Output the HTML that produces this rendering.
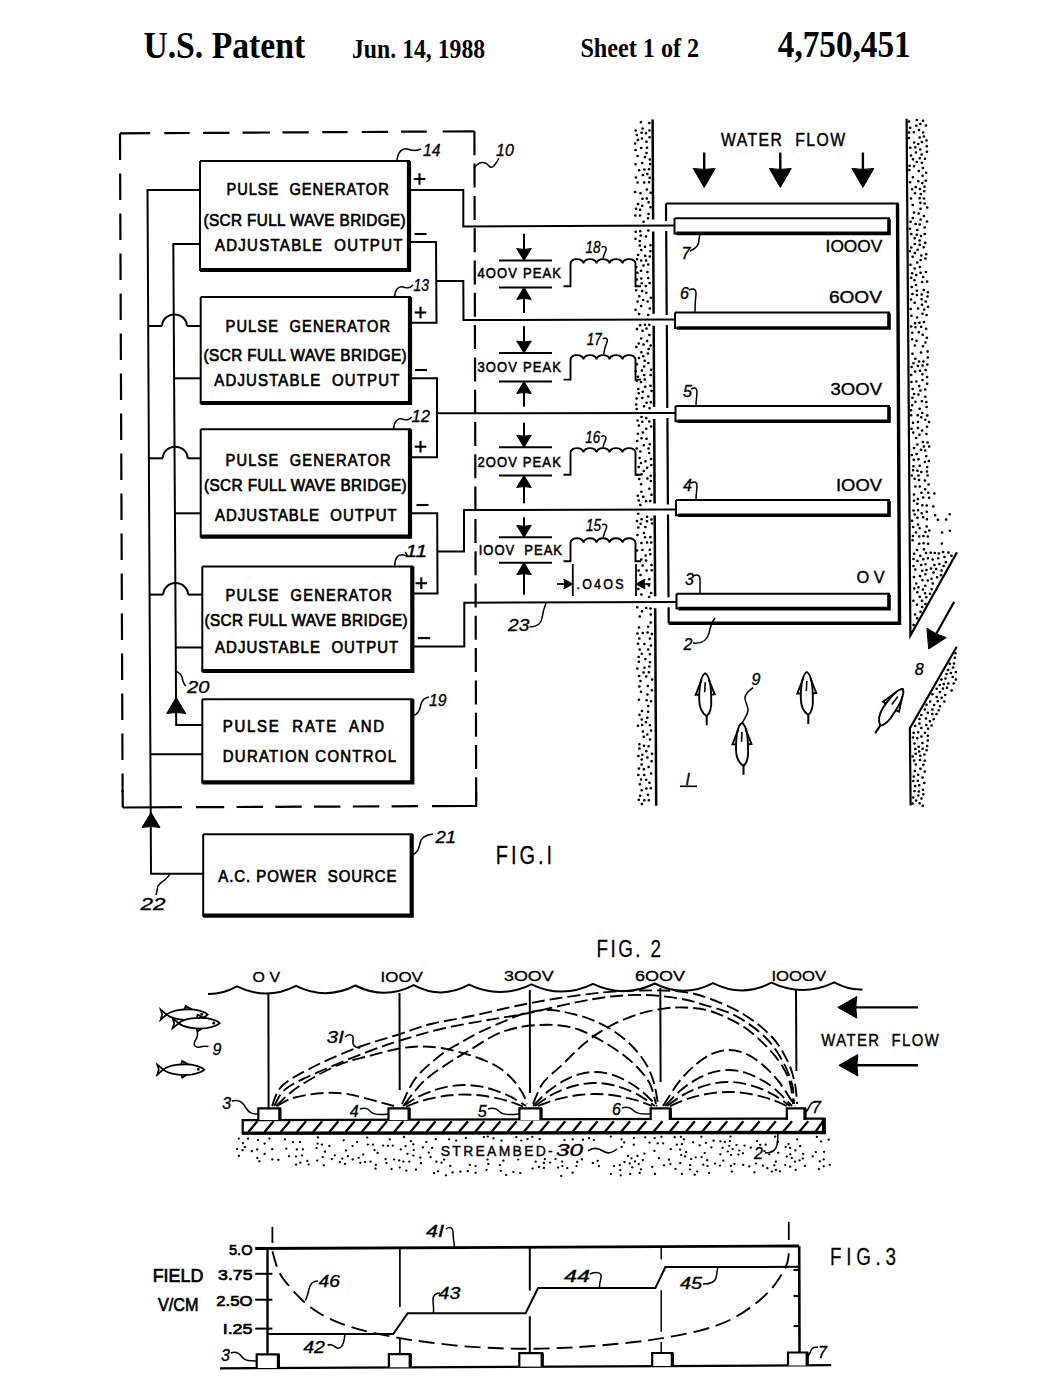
<!DOCTYPE html>
<html><head><meta charset="utf-8"><title>US Patent 4,750,451 Sheet 1</title>
<style>
html,body{margin:0;padding:0;background:#fff;}
body{width:1050px;height:1396px;overflow:hidden;font-family:"Liberation Sans",sans-serif;}
svg{display:block;}
text{white-space:pre;}
</style></head><body>
<svg width="1050" height="1396" viewBox="0 0 1050 1396" stroke-linecap="butt">
<rect width="1050" height="1396" fill="#fff"/>
<text x="143.4" y="58.0" font-family="Liberation Serif" font-size="38" font-weight="bold" font-style="normal" text-anchor="start" textLength="161.7" lengthAdjust="spacingAndGlyphs">U.S. Patent</text>
<text x="352.0" y="58.0" font-family="Liberation Serif" font-size="27" font-weight="bold" font-style="normal" text-anchor="start" textLength="133.2" lengthAdjust="spacingAndGlyphs">Jun. 14, 1988</text>
<text x="580.4" y="57.0" font-family="Liberation Serif" font-size="27" font-weight="bold" font-style="normal" text-anchor="start" textLength="118.8" lengthAdjust="spacingAndGlyphs">Sheet 1 of 2</text>
<text x="777.8" y="57.0" font-family="Liberation Serif" font-size="37" font-weight="bold" font-style="normal" text-anchor="start" textLength="132.8" lengthAdjust="spacingAndGlyphs">4,750,451</text>
<path d="M120.0,133.4 L150.2,133.2 M164.3,133.1 L189.7,133.0 M203.1,132.9 L229.5,132.8 M242.6,132.7 L270.0,132.5 M282.4,132.4 L308.8,132.3 M322.2,132.2 L347.6,132.1 M361.7,132.0 L388.1,131.8 M401.1,131.7 L426.8,131.6 M442.7,131.5 L474.4,131.3 " fill="none" stroke="#000" stroke-width="2.2"/>
<path d="M122.8,807.5 L182.0,807.2 M196.0,807.2 L224.2,807.1 M236.6,807.0 L263.0,806.9 M275.3,806.9 L301.7,806.7 M314.0,806.7 L340.5,806.6 M352.8,806.5 L379.3,806.4 M391.6,806.4 L418.0,806.2 M432.0,806.2 L476.2,806.0 " fill="none" stroke="#000" stroke-width="2.2"/>
<path d="M120.0,133.4 L122.6,792.0" fill="none" stroke="#000" stroke-width="2.2" stroke-dasharray="26.5 13.5"/>
<path d="M122.6,790.0 L122.8,807.5" fill="none" stroke="#000" stroke-width="2.2"/>
<path d="M474.4,131.3 L476.2,807.0" fill="none" stroke="#000" stroke-width="2.2" stroke-dasharray="24 8.3"/>
<path d="M476.1,792.0 L476.2,807.0" fill="none" stroke="#000" stroke-width="2.2"/>
<path d="M200.0,161.0 L409.0,161.0 L409.0,270.0 L200.0,270.0 L200.0,161.0" fill="none" stroke="#000" stroke-width="2" stroke-linejoin="miter"/>
<path d="M409.0,161.0 L409.0,270.0 L200.0,270.0" fill="none" stroke="#000" stroke-width="4.2"/>
<path d="M200.7,297.0 L410.0,297.0 L410.0,403.0 L200.7,403.0 L200.7,297.0" fill="none" stroke="#000" stroke-width="2" stroke-linejoin="miter"/>
<path d="M410.0,297.0 L410.0,403.0 L200.7,403.0" fill="none" stroke="#000" stroke-width="4.2"/>
<path d="M200.7,429.3 L410.0,429.3 L410.0,536.7 L200.7,536.7 L200.7,429.3" fill="none" stroke="#000" stroke-width="2" stroke-linejoin="miter"/>
<path d="M410.0,429.3 L410.0,536.7 L200.7,536.7" fill="none" stroke="#000" stroke-width="4.2"/>
<path d="M202.3,566.4 L412.3,566.4 L412.3,671.0 L202.3,671.0 L202.3,566.4" fill="none" stroke="#000" stroke-width="2" stroke-linejoin="miter"/>
<path d="M412.3,566.4 L412.3,671.0 L202.3,671.0" fill="none" stroke="#000" stroke-width="4.2"/>
<path d="M202.3,699.3 L412.3,699.3 L412.3,782.4 L202.3,782.4 L202.3,699.3" fill="none" stroke="#000" stroke-width="2" stroke-linejoin="miter"/>
<path d="M412.3,699.3 L412.3,782.4 L202.3,782.4" fill="none" stroke="#000" stroke-width="4.2"/>
<path d="M203.2,834.3 L411.7,834.3 L411.7,915.7 L203.2,915.7 L203.2,834.3" fill="none" stroke="#000" stroke-width="2" stroke-linejoin="miter"/>
<path d="M411.7,834.3 L411.7,915.7 L203.2,915.7" fill="none" stroke="#000" stroke-width="4.2"/>
<text transform="translate(226.4 194.7) scale(0.86 1)" x="0" y="0" font-family="Liberation Sans" font-size="17" font-weight="normal" font-style="normal" text-anchor="start" textLength="188.8" lengthAdjust="spacing" stroke="#000" stroke-width="0.7">PULSE  GENERATOR</text>
<text transform="translate(203.4 225.5) scale(0.9 1)" x="0" y="0" font-family="Liberation Sans" font-size="17" font-weight="normal" font-style="normal" text-anchor="start" textLength="224.7" lengthAdjust="spacing" stroke="#000" stroke-width="0.7">(SCR FULL WAVE BRIDGE)</text>
<text transform="translate(214.9 250.7) scale(0.88 1)" x="0" y="0" font-family="Liberation Sans" font-size="17" font-weight="normal" font-style="normal" text-anchor="start" textLength="213.1" lengthAdjust="spacing" stroke="#000" stroke-width="0.7">ADJUSTABLE  OUTPUT</text>
<text transform="translate(225.5 331.7) scale(0.86 1)" x="0" y="0" font-family="Liberation Sans" font-size="17" font-weight="normal" font-style="normal" text-anchor="start" textLength="191.3" lengthAdjust="spacing" stroke="#000" stroke-width="0.7">PULSE  GENERATOR</text>
<text transform="translate(203.5 360.7) scale(0.9 1)" x="0" y="0" font-family="Liberation Sans" font-size="17" font-weight="normal" font-style="normal" text-anchor="start" textLength="225.8" lengthAdjust="spacing" stroke="#000" stroke-width="0.7">(SCR FULL WAVE BRIDGE)</text>
<text transform="translate(214.3 385.5) scale(0.88 1)" x="0" y="0" font-family="Liberation Sans" font-size="17" font-weight="normal" font-style="normal" text-anchor="start" textLength="210.2" lengthAdjust="spacing" stroke="#000" stroke-width="0.7">ADJUSTABLE  OUTPUT</text>
<text transform="translate(225.5 465.5) scale(0.86 1)" x="0" y="0" font-family="Liberation Sans" font-size="17" font-weight="normal" font-style="normal" text-anchor="start" textLength="191.9" lengthAdjust="spacing" stroke="#000" stroke-width="0.7">PULSE  GENERATOR</text>
<text transform="translate(204.0 490.5) scale(0.9 1)" x="0" y="0" font-family="Liberation Sans" font-size="17" font-weight="normal" font-style="normal" text-anchor="start" textLength="225.2" lengthAdjust="spacing" stroke="#000" stroke-width="0.7">(SCR FULL WAVE BRIDGE)</text>
<text transform="translate(215.0 520.5) scale(0.88 1)" x="0" y="0" font-family="Liberation Sans" font-size="17" font-weight="normal" font-style="normal" text-anchor="start" textLength="206.5" lengthAdjust="spacing" stroke="#000" stroke-width="0.7">ADJUSTABLE  OUTPUT</text>
<text transform="translate(225.6 600.6) scale(0.86 1)" x="0" y="0" font-family="Liberation Sans" font-size="17" font-weight="normal" font-style="normal" text-anchor="start" textLength="193.4" lengthAdjust="spacing" stroke="#000" stroke-width="0.7">PULSE  GENERATOR</text>
<text transform="translate(204.4 626.3) scale(0.9 1)" x="0" y="0" font-family="Liberation Sans" font-size="17" font-weight="normal" font-style="normal" text-anchor="start" textLength="225.9" lengthAdjust="spacing" stroke="#000" stroke-width="0.7">(SCR FULL WAVE BRIDGE)</text>
<text transform="translate(215.0 652.8) scale(0.88 1)" x="0" y="0" font-family="Liberation Sans" font-size="17" font-weight="normal" font-style="normal" text-anchor="start" textLength="208.2" lengthAdjust="spacing" stroke="#000" stroke-width="0.7">ADJUSTABLE  OUTPUT</text>
<text transform="translate(222.8 732.0) scale(0.88 1)" x="0" y="0" font-family="Liberation Sans" font-size="17" font-weight="normal" font-style="normal" text-anchor="start" textLength="183.3" lengthAdjust="spacing" stroke="#000" stroke-width="0.7">PULSE  RATE  AND</text>
<text transform="translate(222.8 762.0) scale(0.88 1)" x="0" y="0" font-family="Liberation Sans" font-size="17" font-weight="normal" font-style="normal" text-anchor="start" textLength="196.9" lengthAdjust="spacing" stroke="#000" stroke-width="0.7">DURATION CONTROL</text>
<text transform="translate(218.3 882.3) scale(0.88 1)" x="0" y="0" font-family="Liberation Sans" font-size="17" font-weight="normal" font-style="normal" text-anchor="start" textLength="202.6" lengthAdjust="spacing" stroke="#000" stroke-width="0.7">A.C. POWER  SOURCE</text>
<path d="M200.0,190.0 L147.5,190.0 L151.0,873.7 L203.2,873.7" fill="none" stroke="#000" stroke-width="2"/>
<path d="M200.0,244.0 L173.3,244.0 L176.2,725.0 L202.3,725.0" fill="none" stroke="#000" stroke-width="2"/>
<path d="M148.2,326.0 L162.1,326.0" fill="none" stroke="#000" stroke-width="2"/>
<path d="M162.1,326.0 A12.4,11.6 0 0 1 186.9,326.0" fill="none" stroke="#000" stroke-width="2"/>
<path d="M186.9,326.0 L200.7,326.0" fill="none" stroke="#000" stroke-width="2"/>
<path d="M148.9,458.3 L162.8,458.3" fill="none" stroke="#000" stroke-width="2"/>
<path d="M162.8,458.3 A12.4,11.6 0 0 1 187.6,458.3" fill="none" stroke="#000" stroke-width="2"/>
<path d="M187.6,458.3 L200.7,458.3" fill="none" stroke="#000" stroke-width="2"/>
<path d="M149.6,594.6 L163.2,594.6" fill="none" stroke="#000" stroke-width="2"/>
<path d="M163.2,594.6 A12.4,11.6 0 0 1 188.0,594.6" fill="none" stroke="#000" stroke-width="2"/>
<path d="M188.0,594.6 L202.3,594.6" fill="none" stroke="#000" stroke-width="2"/>
<path d="M174.5,378.3 L200.7,378.3" fill="none" stroke="#000" stroke-width="2"/>
<path d="M175.2,513.3 L200.7,513.3" fill="none" stroke="#000" stroke-width="2"/>
<path d="M176.0,647.5 L202.3,647.5" fill="none" stroke="#000" stroke-width="2"/>
<path d="M150.2,754.2 L202.3,754.2" fill="none" stroke="#000" stroke-width="2"/>
<path d="M176.2,697.5 L185.7,713.5 Q176.2,711.5 166.7,713.5 Z" fill="#000" stroke="#000" stroke-width="1"/>
<path d="M151.0,812.5 L160.0,827.5 Q151.0,825.5 142.0,827.5 Z" fill="#000" stroke="#000" stroke-width="1"/>
<path d="M409.0,190.0 L463.3,190.0 L463.3,226.4 L675.0,225.6" fill="none" stroke="#000" stroke-width="2"/>
<path d="M409.0,242.0 L436.0,242.0 L436.5,322.7 L410.0,322.7" fill="none" stroke="#000" stroke-width="2"/>
<path d="M436.2,281.0 L463.3,281.0 L463.5,320.0 L675.0,319.5" fill="none" stroke="#000" stroke-width="2"/>
<path d="M410.0,378.3 L437.0,378.3 L437.0,457.3 L410.0,457.3" fill="none" stroke="#000" stroke-width="2"/>
<path d="M437.0,413.3 L676.0,413.0" fill="none" stroke="#000" stroke-width="2"/>
<path d="M410.0,513.3 L437.2,513.3 L437.5,593.5 L412.0,593.5" fill="none" stroke="#000" stroke-width="2"/>
<path d="M437.3,551.5 L464.0,551.5 L464.0,510.0 L676.0,509.5" fill="none" stroke="#000" stroke-width="2"/>
<path d="M412.0,646.5 L464.3,646.5 L464.3,602.7 L676.5,602.0" fill="none" stroke="#000" stroke-width="2"/>
<path d="M413.7,179.0 L425.3,179.0" fill="none" stroke="#000" stroke-width="2.1"/>
<path d="M419.5,173.2 L419.5,184.8" fill="none" stroke="#000" stroke-width="2.1"/>
<path d="M414.5,234.0 L426.5,234.0" fill="none" stroke="#000" stroke-width="2.1"/>
<path d="M414.7,312.5 L426.3,312.5" fill="none" stroke="#000" stroke-width="2.1"/>
<path d="M420.5,306.7 L420.5,318.3" fill="none" stroke="#000" stroke-width="2.1"/>
<path d="M415.0,370.0 L427.0,370.0" fill="none" stroke="#000" stroke-width="2.1"/>
<path d="M414.7,446.7 L426.3,446.7" fill="none" stroke="#000" stroke-width="2.1"/>
<path d="M420.5,440.9 L420.5,452.5" fill="none" stroke="#000" stroke-width="2.1"/>
<path d="M416.5,505.0 L428.5,505.0" fill="none" stroke="#000" stroke-width="2.1"/>
<path d="M415.5,583.2 L427.1,583.2" fill="none" stroke="#000" stroke-width="2.1"/>
<path d="M421.3,577.4 L421.3,589.0" fill="none" stroke="#000" stroke-width="2.1"/>
<path d="M418.0,638.1 L430.0,638.1" fill="none" stroke="#000" stroke-width="2.1"/>
<text x="423.0" y="155.8" font-family="Liberation Sans" font-size="17" font-weight="normal" font-style="italic" text-anchor="start" textLength="17.5" lengthAdjust="spacingAndGlyphs" stroke="#000" stroke-width="0.35">14</text>
<path d="M397,160 C398,152 402,148 407,149 C412,150 415,152 421,149" fill="none" stroke="#000" stroke-width="1.5"/>
<text x="413.5" y="290.5" font-family="Liberation Sans" font-size="17" font-weight="normal" font-style="italic" text-anchor="start" textLength="15.5" lengthAdjust="spacingAndGlyphs" stroke="#000" stroke-width="0.35">13</text>
<path d="M394.5,297.5 C395,290 398,286 403,287 C407,288 409,289 413,285" fill="none" stroke="#000" stroke-width="1.5"/>
<text x="411.5" y="421.7" font-family="Liberation Sans" font-size="17" font-weight="normal" font-style="italic" text-anchor="start" textLength="18.5" lengthAdjust="spacingAndGlyphs" stroke="#000" stroke-width="0.35">12</text>
<path d="M393.5,429.5 C394,422 397,418 402,419 C406,420 408,421 412,417" fill="none" stroke="#000" stroke-width="1.5"/>
<text x="405.5" y="557.0" font-family="Liberation Sans" font-size="17" font-weight="normal" font-style="italic" text-anchor="start" textLength="21.5" lengthAdjust="spacingAndGlyphs" stroke="#000" stroke-width="0.35">11</text>
<path d="M394.7,565.5 C395,558 398,554 403,555 C407,556 409,557 405,552" fill="none" stroke="#000" stroke-width="1.5"/>
<text x="496.0" y="155.7" font-family="Liberation Sans" font-size="17" font-weight="normal" font-style="italic" text-anchor="start" textLength="17.8" lengthAdjust="spacingAndGlyphs" stroke="#000" stroke-width="0.35">10</text>
<path d="M474,168 C480,160 486,162 489,166 C492,170 496,164 499,158" fill="none" stroke="#000" stroke-width="1.5"/>
<text x="429.0" y="706.3" font-family="Liberation Sans" font-size="17" font-weight="normal" font-style="italic" text-anchor="start" textLength="17.5" lengthAdjust="spacingAndGlyphs" stroke="#000" stroke-width="0.35">19</text>
<path d="M412.3,716 C419,714 420,709 421,704 C422,700 424,698 429,697" fill="none" stroke="#000" stroke-width="1.5"/>
<text x="187.0" y="693.3" font-family="Liberation Sans" font-size="17" font-weight="normal" font-style="italic" text-anchor="start" textLength="22.4" lengthAdjust="spacingAndGlyphs" stroke="#000" stroke-width="0.35">20</text>
<path d="M176.3,671 C178,673 181,673 182,677 C183,681 183,684 186,686" fill="none" stroke="#000" stroke-width="1.5"/>
<text x="435.5" y="842.6" font-family="Liberation Sans" font-size="17" font-weight="normal" font-style="italic" text-anchor="start" textLength="20.5" lengthAdjust="spacingAndGlyphs" stroke="#000" stroke-width="0.35">21</text>
<path d="M411.8,855 C418,853 419,848 420,843 C421,838 424,835 433,834" fill="none" stroke="#000" stroke-width="1.5"/>
<text x="140.6" y="909.8" font-family="Liberation Sans" font-size="17" font-weight="normal" font-style="italic" text-anchor="start" textLength="25.0" lengthAdjust="spacingAndGlyphs" stroke="#000" stroke-width="0.35">22</text>
<path d="M170,873.7 C167,880 160,882 158,886 C157,889 157,892 156,895" fill="none" stroke="#000" stroke-width="1.5"/>
<text x="508.0" y="630.7" font-family="Liberation Sans" font-size="17" font-weight="normal" font-style="italic" text-anchor="start" textLength="21.3" lengthAdjust="spacingAndGlyphs" stroke="#000" stroke-width="0.35">23</text>
<path d="M529.5,627 C536,627 541,625 542,618 C543,612 544,608 546,603" fill="none" stroke="#000" stroke-width="1.5"/>
<path d="M524.0,233.8 L524.0,250.5" fill="none" stroke="#000" stroke-width="2"/>
<path d="M524.0,260.5 L516.7,248.5 Q524.0,250.5 531.3,248.5 Z" fill="#000" stroke="#000" stroke-width="1"/>
<path d="M499.0,260.5 L552.0,260.5" fill="none" stroke="#000" stroke-width="2"/>
<text transform="translate(477.5 278.3) scale(0.88 1)" x="0" y="0" font-family="Liberation Sans" font-size="14.8" font-weight="normal" font-style="normal" text-anchor="start" textLength="94.9" lengthAdjust="spacing" stroke="#000" stroke-width="0.55">4OOV PEAK</text>
<path d="M499.0,287.4 L552.0,287.4" fill="none" stroke="#000" stroke-width="2"/>
<path d="M524.0,287.4 L531.3,299.4 Q524.0,297.4 516.7,299.4 Z" fill="#000" stroke="#000" stroke-width="1"/>
<path d="M524.0,297.4 L524.0,313.0" fill="none" stroke="#000" stroke-width="2"/>
<path d="M524.0,326.3 L524.0,343.0" fill="none" stroke="#000" stroke-width="2"/>
<path d="M524.0,353.0 L516.7,341.0 Q524.0,343.0 531.3,341.0 Z" fill="#000" stroke="#000" stroke-width="1"/>
<path d="M499.0,353.0 L552.0,353.0" fill="none" stroke="#000" stroke-width="2"/>
<text transform="translate(477.5 372.0) scale(0.88 1)" x="0" y="0" font-family="Liberation Sans" font-size="14.8" font-weight="normal" font-style="normal" text-anchor="start" textLength="94.9" lengthAdjust="spacing" stroke="#000" stroke-width="0.55">3OOV PEAK</text>
<path d="M499.0,381.5 L552.0,381.5" fill="none" stroke="#000" stroke-width="2"/>
<path d="M524.0,381.5 L531.3,393.5 Q524.0,391.5 516.7,393.5 Z" fill="#000" stroke="#000" stroke-width="1"/>
<path d="M524.0,391.5 L524.0,406.7" fill="none" stroke="#000" stroke-width="2"/>
<path d="M524.0,422.7 L524.0,437.2" fill="none" stroke="#000" stroke-width="2"/>
<path d="M524.0,447.2 L516.7,435.2 Q524.0,437.2 531.3,435.2 Z" fill="#000" stroke="#000" stroke-width="1"/>
<path d="M499.0,447.2 L552.0,447.2" fill="none" stroke="#000" stroke-width="2"/>
<text transform="translate(477.5 466.7) scale(0.88 1)" x="0" y="0" font-family="Liberation Sans" font-size="14.8" font-weight="normal" font-style="normal" text-anchor="start" textLength="94.7" lengthAdjust="spacing" stroke="#000" stroke-width="0.55">2OOV PEAK</text>
<path d="M499.0,475.5 L552.0,475.5" fill="none" stroke="#000" stroke-width="2"/>
<path d="M524.0,475.5 L531.3,487.5 Q524.0,485.5 516.7,487.5 Z" fill="#000" stroke="#000" stroke-width="1"/>
<path d="M524.0,485.5 L524.0,503.2" fill="none" stroke="#000" stroke-width="2"/>
<path d="M524.0,517.3 L524.0,527.3" fill="none" stroke="#000" stroke-width="2"/>
<path d="M524.0,537.3 L516.7,525.3 Q524.0,527.3 531.3,525.3 Z" fill="#000" stroke="#000" stroke-width="1"/>
<path d="M499.0,537.3 L552.0,537.3" fill="none" stroke="#000" stroke-width="2"/>
<text transform="translate(478.7 554.9) scale(0.88 1)" x="0" y="0" font-family="Liberation Sans" font-size="14.8" font-weight="normal" font-style="normal" text-anchor="start" textLength="94.7" lengthAdjust="spacing" stroke="#000" stroke-width="0.55">IOOV  PEAK</text>
<path d="M499.0,562.7 L552.0,562.7" fill="none" stroke="#000" stroke-width="2"/>
<path d="M524.0,562.7 L531.3,574.7 Q524.0,572.7 516.7,574.7 Z" fill="#000" stroke="#000" stroke-width="1"/>
<path d="M524.0,572.7 L524.0,594.7" fill="none" stroke="#000" stroke-width="2"/>
<path d="M563.5,286.2 L570.5,286.2 L570.5,263.5 A6.50,4.40 0 0 1 583.50,263.5 A6.50,4.40 0 0 1 596.50,263.5 A6.50,4.40 0 0 1 609.50,263.5 A6.50,4.40 0 0 1 622.50,263.5 A6.50,4.40 0 0 1 635.50,263.5 L635.5,286.2 L641,286.2" fill="none" stroke="#000" stroke-width="1.9"/>
<text x="585.5" y="253.3" font-family="Liberation Sans" font-size="16" font-weight="normal" font-style="italic" text-anchor="start" textLength="15.0" lengthAdjust="spacingAndGlyphs" stroke="#000" stroke-width="0.35">18</text>
<path d="M601.5,247.3 C604.5,245.3 607.5,247.3 605.5,251.3 C603.5,255.3 603.5,258.3 602.5,258.0" fill="none" stroke="#000" stroke-width="1.5"/>
<path d="M563.5,379.6 L570.5,379.6 L570.5,359.5 A6.50,4.40 0 0 1 583.50,359.5 A6.50,4.40 0 0 1 596.50,359.5 A6.50,4.40 0 0 1 609.50,359.5 A6.50,4.40 0 0 1 622.50,359.5 A6.50,4.40 0 0 1 635.50,359.5 L635.5,379.6 L641,379.6" fill="none" stroke="#000" stroke-width="1.9"/>
<text x="586.7" y="344.8" font-family="Liberation Sans" font-size="16" font-weight="normal" font-style="italic" text-anchor="start" textLength="15.0" lengthAdjust="spacingAndGlyphs" stroke="#000" stroke-width="0.35">17</text>
<path d="M602.7,338.8 C605.7,336.8 608.7,338.8 606.7,342.8 C604.7,346.8 604.7,349.8 603.7,354.0" fill="none" stroke="#000" stroke-width="1.5"/>
<path d="M563.5,474.7 L570.5,474.7 L570.5,452.5 A6.50,4.40 0 0 1 583.50,452.5 A6.50,4.40 0 0 1 596.50,452.5 A6.50,4.40 0 0 1 609.50,452.5 A6.50,4.40 0 0 1 622.50,452.5 A6.50,4.40 0 0 1 635.50,452.5 L635.5,474.7 L641,474.7" fill="none" stroke="#000" stroke-width="1.9"/>
<text x="585.3" y="442.7" font-family="Liberation Sans" font-size="16" font-weight="normal" font-style="italic" text-anchor="start" textLength="15.0" lengthAdjust="spacingAndGlyphs" stroke="#000" stroke-width="0.35">16</text>
<path d="M601.3,436.7 C604.3,434.7 607.3,436.7 605.3,440.7 C603.3,444.7 603.3,447.7 602.3,447.0" fill="none" stroke="#000" stroke-width="1.5"/>
<path d="M563.5,561.3 L570.5,561.3 L570.5,542.7 A6.50,4.40 0 0 1 583.50,542.7 A6.50,4.40 0 0 1 596.50,542.7 A6.50,4.40 0 0 1 609.50,542.7 A6.50,4.40 0 0 1 622.50,542.7 A6.50,4.40 0 0 1 635.50,542.7 L635.5,561.3 L641,561.3" fill="none" stroke="#000" stroke-width="1.9"/>
<text x="586.0" y="531.0" font-family="Liberation Sans" font-size="16" font-weight="normal" font-style="italic" text-anchor="start" textLength="15.0" lengthAdjust="spacingAndGlyphs" stroke="#000" stroke-width="0.35">15</text>
<path d="M602,525 C605,523 608,525 606,529 C604,533 604,536 603,537.2" fill="none" stroke="#000" stroke-width="1.5"/>
<path d="M572.8,564.0 L572.8,596.0" fill="none" stroke="#000" stroke-width="1.8"/>
<path d="M636.0,564.0 L636.0,596.0" fill="none" stroke="#000" stroke-width="1.8"/>
<path d="M557.0,584.0 L566.0,584.0" fill="none" stroke="#000" stroke-width="1.8"/>
<path d="M572.8,584.0 L563.8,589.0 Q565.8,584.0 563.8,579.0 Z" fill="#000" stroke="#000" stroke-width="1"/>
<path d="M650.5,584.0 L643.0,584.0" fill="none" stroke="#000" stroke-width="1.8"/>
<path d="M636.0,584.0 L645.0,579.0 Q643.0,584.0 645.0,589.0 Z" fill="#000" stroke="#000" stroke-width="1"/>
<text transform="translate(576.5 588.5) scale(0.88 1)" x="0" y="0" font-family="Liberation Sans" font-size="14.2" font-weight="normal" font-style="normal" text-anchor="start" textLength="53.4" lengthAdjust="spacing" stroke="#000" stroke-width="0.5">.O4OS</text>
<path d="M652.6,119.4 L653.1,219.4 M653.2,231.4 L653.6,313.7 M653.7,325.7 L654.1,407.0 M654.2,419.0 L654.6,503.6 M654.7,515.6 L655.1,596.2 M655.2,608.2 L656.2,805.7 " fill="none" stroke="#000" stroke-width="2.5"/>
<path d="M906.6,118.8 L910.4,635.5 L957.0,552.3" fill="none" stroke="#000" stroke-width="2.2"/>
<path d="M956.7,646.7 L909.9,728.3 L910.6,805.5" fill="none" stroke="#000" stroke-width="2.2"/>
<path d="M644.3 169.6h.2M641.8 370.5h.2M639.3 686.4h.2M643.8 769.2h.2M642.7 391.7h.2M644.1 375.1h.2M642.1 163.0h.2M636.9 521.1h.2M640.0 325.3h.2M641.6 719.5h.2M639.2 638.6h.2M649.3 334.9h.2M645.3 527.1h.2M642.8 432.5h.2M648.5 767.1h.2M640.4 574.9h.2M644.2 800.3h.2M648.1 314.9h.2M642.1 725.1h.2M648.0 711.8h.2M636.1 404.5h.2M637.9 725.7h.2M643.0 300.0h.2M651.0 593.0h.2M641.3 543.1h.2M644.9 157.0h.2M649.8 654.3h.2M649.2 666.5h.2M638.6 393.3h.2M637.5 156.0h.2M643.5 221.8h.2M638.0 204.1h.2M648.7 800.3h.2M640.3 451.4h.2M637.5 301.4h.2M648.2 230.6h.2M641.9 138.5h.2M641.6 790.3h.2M649.0 596.9h.2M635.7 371.2h.2M641.7 653.7h.2M637.3 272.8h.2M647.9 794.7h.2M648.8 672.2h.2M648.0 626.8h.2M637.8 139.9h.2M651.0 426.4h.2M651.0 369.8h.2M643.7 736.7h.2M648.5 448.4h.2M644.4 667.8h.2M637.3 668.6h.2M651.4 391.1h.2M638.8 768.6h.2M645.9 236.5h.2M651.6 570.2h.2M637.7 495.8h.2M651.4 565.0h.2M641.6 759.5h.2M648.2 264.6h.2M637.8 433.8h.2M639.3 748.6h.2M641.0 484.3h.2M641.5 132.8h.2M639.7 245.4h.2M646.0 501.2h.2M637.2 475.1h.2M635.5 309.7h.2M647.0 467.8h.2M641.3 594.5h.2M650.7 297.8h.2M648.5 213.9h.2M647.2 734.5h.2M649.4 782.8h.2M651.8 690.2h.2M641.3 352.3h.2M645.9 133.3h.2M642.2 421.7h.2M643.7 470.9h.2M635.9 208.7h.2M639.3 744.3h.2M642.2 754.8h.2M641.6 283.3h.2M636.9 328.9h.2M635.5 130.5h.2M650.6 192.8h.2M640.9 691.7h.2M638.6 467.1h.2M645.5 555.6h.2M638.9 358.1h.2M635.6 231.8h.2M649.2 579.3h.2M636.2 285.9h.2M651.4 494.7h.2M636.8 364.3h.2M636.7 279.5h.2M646.5 570.4h.2M645.8 722.2h.2M638.6 343.4h.2M645.9 560.6h.2M649.6 549.7h.2M646.1 676.4h.2M647.7 686.1h.2M642.8 731.6h.2M642.3 550.0h.2M643.8 586.3h.2M640.8 122.3h.2M647.5 632.6h.2M646.2 292.8h.2M646.0 260.6h.2M646.3 788.4h.2M640.9 382.1h.2M646.9 542.6h.2M646.4 328.5h.2M642.5 128.5h.2M641.4 438.3h.2M649.7 256.5h.2M651.5 761.3h.2M648.5 202.2h.2M650.4 608.4h.2M638.2 389.1h.2M652.0 523.6h.2M641.2 250.0h.2M638.2 775.0h.2M643.9 745.7h.2M646.1 428.8h.2M650.4 207.2h.2M640.9 270.7h.2M639.9 215.6h.2M637.5 182.4h.2M646.5 402.8h.2M639.1 479.1h.2M636.0 290.2h.2M638.8 425.4h.2M651.0 701.3h.2M649.7 444.2h.2M648.2 706.0h.2M650.7 614.4h.2M644.2 643.9h.2M641.5 519.3h.2M636.8 134.9h.2M641.0 582.0h.2M639.2 296.2h.2M635.0 143.4h.2M645.0 255.7h.2M641.1 260.6h.2M648.0 278.1h.2M649.8 725.3h.2M650.5 345.5h.2M646.4 141.8h.2M644.6 379.4h.2M639.0 676.1h.2M646.9 147.8h.2M651.1 542.6h.2M650.2 554.3h.2M651.0 773.4h.2M639.5 458.0h.2M650.4 245.3h.2M648.1 649.4h.2M643.4 344.5h.2M647.2 174.1h.2M635.4 164.3h.2M635.8 177.6h.2M646.5 700.2h.2M638.7 799.8h.2M641.2 278.5h.2M640.4 681.1h.2M648.5 746.3h.2M651.4 519.5h.2M650.5 375.0h.2M644.9 246.8h.2M636.9 259.3h.2M644.1 182.4h.2M639.0 314.1h.2M638.0 255.1h.2M640.1 231.3h.2M650.7 788.2h.2M650.4 385.7h.2M647.3 272.1h.2M638.9 699.8h.2M643.2 496.8h.2M640.4 193.3h.2M641.2 147.9h.2M647.3 757.4h.2M649.7 308.4h.2M647.9 218.3h.2M641.1 338.6h.2M644.0 366.4h.2M647.5 301.4h.2M637.9 643.8h.2M639.7 241.1h.2M646.4 153.1h.2M643.7 445.3h.2M650.6 622.5h.2M641.2 559.5h.2M646.4 438.7h.2M635.0 192.1h.2M637.4 633.5h.2M647.3 478.4h.2M649.4 130.4h.2M639.6 616.4h.2M642.5 330.8h.2M651.2 465.1h.2M639.6 649.5h.2M649.0 182.3h.2M636.2 267.1h.2M645.4 461.3h.2M645.3 659.0h.2M649.5 137.2h.2M647.0 516.7h.2M649.5 283.0h.2M646.1 417.9h.2M638.8 661.8h.2M638.9 627.5h.2M642.6 633.1h.2M648.8 585.5h.2M636.9 550.4h.2M650.7 475.7h.2M641.9 611.3h.2M650.7 481.0h.2M640.3 505.0h.2M642.1 205.7h.2M648.3 363.0h.2M636.6 448.5h.2M649.9 662.3h.2M647.3 694.6h.2M635.2 215.4h.2M641.9 711.1h.2M648.2 396.6h.2M641.1 306.1h.2M650.3 536.9h.2M646.8 189.4h.2M636.6 408.9h.2M645.8 286.0h.2M638.1 513.8h.2M643.9 406.3h.2M637.3 535.0h.2M638.3 589.1h.2M640.5 523.7h.2M643.1 356.3h.2M649.1 453.1h.2M650.8 645.6h.2M650.0 164.0h.2M644.1 775.1h.2M649.9 739.6h.2M644.9 324.7h.2M640.6 235.5h.2M648.5 349.1h.2M652.0 753.7h.2M649.7 159.4h.2M647.8 353.5h.2M638.2 527.5h.2M637.1 607.2h.2M651.0 458.9h.2M640.9 463.0h.2M641.4 417.1h.2M636.5 398.5h.2M642.5 565.5h.2M649.2 421.4h.2M649.2 123.0h.2M646.8 521.3h.2M641.0 779.5h.2M647.2 717.8h.2M638.6 500.4h.2M641.8 803.9h.2M641.4 474.3h.2M645.1 386.8h.2M649.5 408.3h.2M643.9 533.1h.2M643.5 672.5h.2M647.0 341.1h.2M635.5 150.1h.2M635.4 238.8h.2M642.4 198.7h.2M640.0 209.7h.2M643.4 265.6h.2M641.3 491.7h.2M638.5 570.4h.2M644.6 360.7h.2M646.1 608.1h.2M636.7 380.8h.2M642.0 291.0h.2M637.1 441.0h.2M651.8 634.1h.2M642.8 175.0h.2M639.8 784.3h.2M637.5 420.5h.2M644.9 537.3h.2M639.0 170.3h.2M646.7 198.5h.2M649.3 488.8h.2M640.1 795.7h.2M642.1 398.1h.2M639.4 714.8h.2M646.1 779.8h.2M641.5 764.5h.2M646.2 751.2h.2M636.2 347.1h.2M650.3 251.3h.2M649.8 638.6h.2M652.0 679.5h.2M650.2 500.9h.2M649.0 169.3h.2M637.8 376.7h.2M649.6 177.8h.2M650.7 402.2h.2M649.2 324.8h.2M638.6 656.9h.2M638.3 756.1h.2M651.0 730.6h.2" stroke="#000" stroke-width="2.50" stroke-linecap="round" fill="none"/>
<path d="M912.9 422.8h.2M926.6 505.4h.2M920.3 202.7h.2M924.1 191.3h.2M933.4 572.6h.2M913.9 500.7h.2M914.4 280.3h.2M922.0 606.9h.2M915.9 284.9h.2M919.3 322.7h.2M919.7 224.5h.2M913.4 510.4h.2M925.0 593.3h.2M919.6 244.8h.2M927.7 536.6h.2M911.1 277.7h.2M923.8 322.0h.2M915.2 569.6h.2M912.3 294.1h.2M932.6 559.5h.2M927.2 415.6h.2M920.1 555.8h.2M948.4 552.5h.2M913.3 466.2h.2M916.7 234.7h.2M924.8 480.6h.2M922.9 120.8h.2M920.1 149.6h.2M917.3 444.4h.2M923.7 290.1h.2M927.0 383.7h.2M912.4 353.7h.2M915.4 327.3h.2M920.5 219.4h.2M919.6 408.7h.2M916.3 125.7h.2M924.5 203.6h.2M921.8 141.9h.2M914.6 302.7h.2M910.9 198.6h.2M911.0 410.3h.2M918.9 130.0h.2M929.0 497.7h.2M922.8 441.9h.2M918.4 587.3h.2M926.0 172.8h.2M927.0 466.9h.2M926.6 526.4h.2M919.5 198.3h.2M911.7 455.1h.2M916.4 340.8h.2M910.6 309.0h.2M921.6 513.2h.2M913.1 432.5h.2M921.5 299.2h.2M922.8 168.0h.2M918.7 332.2h.2M923.1 517.3h.2M925.2 396.8h.2M909.9 228.8h.2M914.7 345.4h.2M912.8 177.3h.2M927.5 475.5h.2M923.8 549.3h.2M917.4 561.0h.2M920.3 124.1h.2M913.7 459.8h.2M914.9 193.3h.2M926.1 456.2h.2M925.1 389.4h.2M911.1 247.4h.2M917.0 317.6h.2M925.1 450.6h.2M930.9 568.6h.2M911.5 366.9h.2M914.6 238.3h.2M917.2 503.8h.2M936.0 568.9h.2M916.7 162.0h.2M919.6 596.8h.2M945.7 562.2h.2M925.2 585.7h.2M912.7 218.0h.2M916.9 550.1h.2M927.4 296.4h.2M918.2 181.3h.2M912.5 389.0h.2M937.0 577.3h.2M918.4 459.2h.2M918.0 308.4h.2M942.0 532.4h.2M914.9 614.5h.2M917.8 499.1h.2M924.8 461.9h.2M917.2 230.1h.2M919.6 137.4h.2M919.1 543.8h.2M938.1 558.3h.2M908.9 121.5h.2M914.5 478.8h.2M919.6 486.6h.2M922.6 334.8h.2M913.9 166.3h.2M919.5 528.3h.2M934.3 493.5h.2M921.0 449.8h.2M917.4 517.8h.2M922.0 282.1h.2M913.3 600.7h.2M925.0 489.3h.2M922.5 365.6h.2M921.5 154.4h.2M910.9 155.5h.2M914.0 394.0h.2M914.6 514.5h.2M923.6 247.2h.2M919.0 361.6h.2M923.8 215.9h.2M928.0 543.8h.2M925.6 301.4h.2M925.9 553.1h.2M912.3 397.7h.2M923.5 543.3h.2M916.8 295.0h.2M918.7 170.9h.2M923.0 132.4h.2M922.1 570.8h.2M924.6 233.9h.2M916.1 275.0h.2M923.1 497.5h.2M915.3 401.7h.2M932.6 583.6h.2M919.1 386.1h.2M922.4 379.9h.2M913.4 565.9h.2M926.3 433.9h.2M913.9 212.5h.2M922.4 313.7h.2M919.4 434.8h.2M913.0 470.3h.2M912.5 540.2h.2M913.9 577.1h.2M926.2 402.0h.2M916.3 381.4h.2M922.2 412.9h.2M913.9 494.4h.2M918.0 510.3h.2M922.8 589.4h.2M914.1 142.5h.2M928.8 460.9h.2M926.9 221.6h.2M919.6 465.7h.2M911.3 315.8h.2M917.2 262.4h.2M921.0 326.8h.2M921.9 304.8h.2M917.9 524.5h.2M925.3 258.5h.2M923.2 559.3h.2M925.6 180.7h.2M926.9 426.8h.2M926.5 315.1h.2M917.8 422.0h.2M927.9 306.8h.2M916.7 120.1h.2M925.3 342.6h.2M925.4 564.2h.2M934.3 564.9h.2M916.2 583.6h.2M929.2 530.4h.2M924.6 227.4h.2M911.9 520.8h.2M921.1 565.1h.2M917.6 415.2h.2M925.3 574.3h.2M921.8 401.2h.2M914.9 323.2h.2M909.5 165.8h.2M911.3 382.0h.2M927.7 580.5h.2M914.7 253.0h.2M930.6 552.8h.2M925.3 532.0h.2M951.4 555.7h.2M925.9 125.5h.2M917.6 249.8h.2M922.5 175.8h.2M912.0 189.2h.2M927.8 558.3h.2M910.2 147.7h.2M926.1 254.3h.2M911.4 428.8h.2M925.8 272.0h.2M914.0 553.7h.2M916.9 604.8h.2M910.4 264.7h.2M910.9 299.4h.2M941.5 570.6h.2M927.5 351.4h.2M915.8 532.6h.2M922.3 374.2h.2M921.4 492.8h.2M919.9 576.1h.2M915.3 486.6h.2M939.3 564.1h.2M912.2 332.7h.2M922.2 183.1h.2M912.1 339.2h.2M910.0 127.8h.2M925.2 242.7h.2M919.0 480.0h.2M922.9 346.3h.2M923.8 136.5h.2M915.6 187.1h.2M916.8 290.8h.2M926.7 511.7h.2M927.2 364.6h.2M926.8 519.3h.2M919.9 188.9h.2M910.5 221.8h.2M920.5 259.9h.2M914.6 244.0h.2M923.9 198.4h.2M921.8 162.8h.2M922.0 430.6h.2M923.1 276.9h.2M925.2 419.8h.2M912.9 159.3h.2M919.1 536.5h.2M929.9 593.7h.2M915.2 358.7h.2M908.9 137.9h.2M911.6 287.0h.2M931.5 589.3h.2M911.2 233.9h.2M926.8 337.8h.2M934.7 553.1h.2M928.5 484.4h.2M919.9 370.7h.2M924.9 158.8h.2M920.3 390.6h.2M920.4 611.7h.2M918.5 213.6h.2M921.2 417.2h.2M916.5 453.9h.2M926.5 407.0h.2M921.2 472.1h.2M913.4 559.1h.2M917.8 427.9h.2M927.0 376.9h.2M940.9 575.2h.2M910.0 182.2h.2M917.2 592.2h.2M912.9 535.9h.2M921.2 255.4h.2M927.8 292.3h.2M922.2 505.2h.2M916.0 438.0h.2M938.8 553.5h.2M920.4 208.7h.2M912.6 256.8h.2M919.8 266.9h.2M913.5 624.9h.2M908.9 132.5h.2M912.7 204.9h.2M921.9 600.8h.2M914.5 268.4h.2M914.0 447.9h.2M914.1 588.6h.2M921.0 352.4h.2M918.4 475.5h.2M926.0 328.8h.2M927.5 442.6h.2M949.8 530.7h.2M913.7 132.3h.2M937.8 519.8h.2M917.0 618.2h.2M920.5 272.8h.2M926.7 146.3h.2M913.4 363.2h.2M915.2 147.3h.2M928.9 422.0h.2M915.1 371.4h.2M911.1 374.9h.2M944.4 556.9h.2M918.2 144.0h.2M909.7 251.3h.2M928.2 492.8h.2M915.9 152.5h.2M924.4 186.8h.2M912.0 405.3h.2M931.4 578.7h.2M913.1 527.0h.2M943.0 552.1h.2M922.4 580.2h.2M923.3 536.0h.2M919.5 240.4h.2M915.6 224.1h.2M920.7 193.9h.2M933.2 506.4h.2M923.3 361.5h.2M926.8 151.8h.2M925.3 604.0h.2M917.4 470.7h.2M912.1 273.2h.2M911.1 415.3h.2M918.3 394.6h.2M949.6 514.2h.2M911.1 326.4h.2M909.3 170.0h.2M926.4 140.6h.2M920.9 236.1h.2M926.4 570.1h.2M946.0 519.4h.2M927.1 207.5h.2M926.2 597.3h.2M929.1 446.6h.2M943.5 566.0h.2M927.7 357.6h.2M911.7 475.6h.2M923.8 446.6h.2M921.6 294.4h.2M926.8 471.4h.2M925.5 369.9h.2M935.1 515.2h.2M919.7 158.3h.2M917.8 366.1h.2M941.8 543.4h.2M927.0 281.5h.2M924.1 309.5h.2" stroke="#000" stroke-width="2.50" stroke-linecap="round" fill="none"/>
<path d="M934.0 705.1h.2M955.8 672.0h.2M918.6 746.8h.2M918.0 774.8h.2M924.3 754.5h.2M939.9 691.9h.2M939.6 685.0h.2M932.3 694.2h.2M944.3 701.4h.2M936.6 697.0h.2M921.4 798.4h.2M915.6 753.8h.2M921.3 736.5h.2M924.9 732.7h.2M924.2 783.1h.2M928.0 728.7h.2M924.7 760.8h.2M936.4 714.1h.2M919.1 785.3h.2M925.9 718.5h.2M945.1 695.1h.2M939.9 706.2h.2M953.0 667.4h.2M918.7 791.4h.2M922.3 742.9h.2M920.3 768.7h.2M952.6 676.9h.2M938.6 710.3h.2M953.6 683.5h.2M948.2 683.6h.2M914.7 770.9h.2M919.9 759.9h.2M926.2 724.9h.2M918.1 732.2h.2M927.7 740.4h.2M948.0 670.1h.2M919.5 803.2h.2M913.5 732.8h.2M914.4 743.6h.2M926.4 704.7h.2M915.0 726.0h.2M924.6 771.6h.2M932.2 714.0h.2M912.9 737.4h.2M920.2 755.8h.2M922.5 748.8h.2M930.1 701.4h.2M932.3 709.4h.2M953.9 663.4h.2M919.4 719.0h.2M951.5 690.4h.2M914.0 760.6h.2M941.3 679.4h.2M924.7 709.4h.2M915.7 764.6h.2M929.8 721.3h.2M921.2 728.0h.2M954.7 657.7h.2M922.5 777.4h.2M913.7 776.6h.2M913.2 781.0h.2M913.1 797.4h.2M914.4 790.9h.2M912.5 803.5h.2M921.2 714.9h.2M917.7 780.7h.2M922.9 789.7h.2M946.5 674.0h.2M919.4 723.4h.2M945.4 678.5h.2M941.5 697.8h.2M946.9 687.7h.2M915.2 749.1h.2M936.6 688.8h.2M923.2 764.8h.2M923.2 794.3h.2M955.8 679.6h.2M937.6 701.2h.2M927.7 735.8h.2M942.8 688.5h.2M927.7 712.7h.2M927.0 746.1h.2M917.2 738.2h.2M918.2 795.6h.2M915.0 786.1h.2M916.0 800.5h.2M949.7 663.7h.2M933.6 719.3h.2M955.4 653.3h.2M926.5 750.3h.2M922.7 805.7h.2M943.6 684.0h.2M950.8 673.1h.2M919.1 751.5h.2M931.5 725.4h.2M912.6 756.6h.2" stroke="#000" stroke-width="2.50" stroke-linecap="round" fill="none"/>
<path d="M666.0,203.6 L897.5,203.6 L899.5,623.3 L668.7,623.3" fill="none" stroke="#000" stroke-width="2"/>
<path d="M666.0,203.6 L666.1,220.9 M666.2,230.9 L666.7,315.0 M666.8,325.0 L667.3,408.0 M667.4,418.0 L667.9,504.6 M668.0,514.6 L668.5,597.2 M668.6,607.2 L668.7,623.3 " fill="none" stroke="#000" stroke-width="2.2"/>
<path d="M897.5,203.6 L899.5,623.3 L668.7,623.3" fill="none" stroke="#000" stroke-width="3.4"/>
<path d="M674.5,218.3 L889.0,218.3 L889.0,233.4 L674.5,233.4 L674.5,218.3" fill="none" stroke="#000" stroke-width="2"/>
<path d="M889.0,219.3 L889.0,233.4 L676.5,233.4" fill="none" stroke="#000" stroke-width="3.6"/>
<path d="M675.0,312.5 L889.0,312.5 L889.0,328.0 L675.0,328.0 L675.0,312.5" fill="none" stroke="#000" stroke-width="2"/>
<path d="M889.0,313.5 L889.0,328.0 L677.0,328.0" fill="none" stroke="#000" stroke-width="3.6"/>
<path d="M675.5,406.1 L889.0,406.1 L889.0,421.3 L675.5,421.3 L675.5,406.1" fill="none" stroke="#000" stroke-width="2"/>
<path d="M889.0,407.1 L889.0,421.3 L677.5,421.3" fill="none" stroke="#000" stroke-width="3.6"/>
<path d="M676.0,500.0 L889.0,500.0 L889.0,515.2 L676.0,515.2 L676.0,500.0" fill="none" stroke="#000" stroke-width="2"/>
<path d="M889.0,501.0 L889.0,515.2 L678.0,515.2" fill="none" stroke="#000" stroke-width="3.6"/>
<path d="M676.5,593.8 L889.0,593.8 L889.0,608.6 L676.5,608.6 L676.5,593.8" fill="none" stroke="#000" stroke-width="2"/>
<path d="M889.0,594.8 L889.0,608.6 L678.5,608.6" fill="none" stroke="#000" stroke-width="3.6"/>
<text x="825.6" y="252.2" font-family="Liberation Sans" font-size="17" font-weight="normal" font-style="normal" text-anchor="start" textLength="56.7" lengthAdjust="spacingAndGlyphs" stroke="#000" stroke-width="0.4">IOOOV</text>
<text x="828.9" y="303.4" font-family="Liberation Sans" font-size="17" font-weight="normal" font-style="normal" text-anchor="start" textLength="53.1" lengthAdjust="spacingAndGlyphs" stroke="#000" stroke-width="0.4">6OOV</text>
<text x="830.5" y="394.8" font-family="Liberation Sans" font-size="17" font-weight="normal" font-style="normal" text-anchor="start" textLength="51.5" lengthAdjust="spacingAndGlyphs" stroke="#000" stroke-width="0.4">3OOV</text>
<text x="836.0" y="491.0" font-family="Liberation Sans" font-size="17" font-weight="normal" font-style="normal" text-anchor="start" textLength="46.0" lengthAdjust="spacingAndGlyphs" stroke="#000" stroke-width="0.4">IOOV</text>
<text x="856.5" y="582.9" font-family="Liberation Sans" font-size="17" font-weight="normal" font-style="normal" text-anchor="start" textLength="28.2" lengthAdjust="spacingAndGlyphs" stroke="#000" stroke-width="0.4">O V</text>
<text transform="translate(721.0 146.0) scale(0.9 1)" x="0" y="0" font-family="Liberation Sans" font-size="17.5" font-weight="normal" font-style="normal" text-anchor="start" textLength="137.8" lengthAdjust="spacing" stroke="#000" stroke-width="0.45">WATER  FLOW</text>
<path d="M704.2,152.5 L704.2,172.0" fill="none" stroke="#000" stroke-width="2.4"/>
<path d="M704.2,187.4 L693.2,168.4 Q704.2,170.4 715.2,168.4 Z" fill="#000" stroke="#000" stroke-width="1"/>
<path d="M780.3,152.5 L780.3,172.0" fill="none" stroke="#000" stroke-width="2.4"/>
<path d="M780.3,187.4 L769.3,168.4 Q780.3,170.4 791.3,168.4 Z" fill="#000" stroke="#000" stroke-width="1"/>
<path d="M862.9,152.5 L862.9,172.0" fill="none" stroke="#000" stroke-width="2.4"/>
<path d="M862.9,187.4 L851.9,168.4 Q862.9,170.4 873.9,168.4 Z" fill="#000" stroke="#000" stroke-width="1"/>
<text x="681.5" y="259.0" font-family="Liberation Sans" font-size="16" font-weight="normal" font-style="italic" text-anchor="start" stroke="#000" stroke-width="0.35">7</text>
<path d="M690,251 C695,249 699,246 699,240 C699,237 700,235 700,233.5" fill="none" stroke="#000" stroke-width="1.5"/>
<text x="680.0" y="298.5" font-family="Liberation Sans" font-size="16" font-weight="normal" font-style="italic" text-anchor="start" stroke="#000" stroke-width="0.35">6</text>
<path d="M689,290 C693,288 696,289 696,293 C696,297 695,300 695,312" fill="none" stroke="#000" stroke-width="1.5"/>
<text x="683.0" y="397.4" font-family="Liberation Sans" font-size="16" font-weight="normal" font-style="italic" text-anchor="start" stroke="#000" stroke-width="0.35">5</text>
<path d="M691,389 C695,387 697,388 697,392 C697,396 696,399 696,406" fill="none" stroke="#000" stroke-width="1.5"/>
<text x="683.0" y="491.0" font-family="Liberation Sans" font-size="16" font-weight="normal" font-style="italic" text-anchor="start" stroke="#000" stroke-width="0.35">4</text>
<path d="M691,483 C695,481 697,482 697,486 C697,490 696,493 696,500" fill="none" stroke="#000" stroke-width="1.5"/>
<text x="685.0" y="584.6" font-family="Liberation Sans" font-size="16" font-weight="normal" font-style="italic" text-anchor="start" stroke="#000" stroke-width="0.35">3</text>
<path d="M693,576 C697,574 700,575 700,579 C700,583 700,587 700,594" fill="none" stroke="#000" stroke-width="1.5"/>
<text x="683.4" y="650.0" font-family="Liberation Sans" font-size="16" font-weight="normal" font-style="italic" text-anchor="start" stroke="#000" stroke-width="0.35">2</text>
<path d="M693,643 C703,644 707,640 709,633 C710,628 712,622 715,618" fill="none" stroke="#000" stroke-width="1.5"/>
<text x="751.5" y="684.5" font-family="Liberation Sans" font-size="16" font-weight="normal" font-style="italic" text-anchor="start" stroke="#000" stroke-width="0.35">9</text>
<path d="M753,687.6 C749,691 745,693 745,698 C745,703 749,707 748,711 C747,716 744,719 742.5,722.5" fill="none" stroke="#000" stroke-width="1.5"/>
<text x="685.5" y="785.0" font-family="Liberation Sans" font-size="16" font-weight="normal" font-style="italic" text-anchor="start" stroke="#000" stroke-width="0.35">I</text>
<path d="M680.0,786.3 L697.0,786.3" fill="none" stroke="#000" stroke-width="1.6"/>
<text x="914.8" y="675.4" font-family="Liberation Sans" font-size="16" font-weight="normal" font-style="italic" text-anchor="start" stroke="#000" stroke-width="0.35">8</text>
<path d="M954.2,601.7 L935.0,636.0" fill="none" stroke="#000" stroke-width="2.2"/>
<path d="M928.7,649.0 L926.9,628.1 Q935.7,634.6 946.3,637.6 Z" fill="#000" stroke="#000" stroke-width="1"/>
<g transform="translate(705.2,673.3) rotate(0)" fill="none" stroke="#000" stroke-width="1.9"><path d="M0,0 C-5,3 -6,18 -6,26 C-6,34 -3,40 1.5,43 C5,40 6.5,34 6,26 C6,18 5,3 0,0 Z"/><path d="M-3.5,6 L-9.5,21.5 L-5.5,21.5"/><path d="M3.5,6 L9.5,21 L6,21.5"/><path d="M1.5,43 L1.5,52" stroke-width="2"/><path d="M0,9 L-0.5,19" stroke-width="1.6"/></g>
<g transform="translate(806.8,672) rotate(0)" fill="none" stroke="#000" stroke-width="1.9"><path d="M0,0 C-5,3 -6,18 -6,26 C-6,34 -3,40 1.5,43 C5,40 6.5,34 6,26 C6,18 5,3 0,0 Z"/><path d="M-3.5,6 L-9.5,21.5 L-5.5,21.5"/><path d="M3.5,6 L9.5,21 L6,21.5"/><path d="M1.5,43 L1.5,52" stroke-width="2"/><path d="M0,9 L-0.5,19" stroke-width="1.6"/></g>
<g transform="translate(742,722.9) rotate(0)" fill="none" stroke="#000" stroke-width="1.9"><path d="M0,0 C-5,3 -6,18 -6,26 C-6,34 -3,40 1.5,43 C5,40 6.5,34 6,26 C6,18 5,3 0,0 Z"/><path d="M-3.5,6 L-9.5,21.5 L-5.5,21.5"/><path d="M3.5,6 L9.5,21 L6,21.5"/><path d="M1.5,43 L1.5,52" stroke-width="2"/><path d="M0,9 L-0.5,19" stroke-width="1.6"/></g>
<g transform="translate(902.8,689) rotate(33.7)" fill="none" stroke="#000" stroke-width="1.9"><path d="M0,0 C-5,3 -6,18 -6,26 C-6,34 -3,40 1.5,43 C5,40 6.5,34 6,26 C6,18 5,3 0,0 Z"/><path d="M-3.5,6 L-9.5,21.5 L-5.5,21.5"/><path d="M3.5,6 L9.5,21 L6,21.5"/><path d="M1.5,43 L1.5,52" stroke-width="2"/><path d="M0,9 L-0.5,19" stroke-width="1.6"/></g>
<text transform="translate(495.8 864.0) scale(0.8 1)" x="0" y="0" font-family="Liberation Sans" font-size="25" font-weight="normal" font-style="normal" text-anchor="start" textLength="70.2" lengthAdjust="spacing" stroke="#000" stroke-width="0.25">FIG.I</text>
<text transform="translate(596.6 956.7) scale(0.8 1)" x="0" y="0" font-family="Liberation Sans" font-size="23.5" font-weight="normal" font-style="normal" text-anchor="start" textLength="80.5" lengthAdjust="spacing" stroke="#000" stroke-width="0.25">FIG. 2</text>
<text x="252.6" y="982.2" font-family="Liberation Sans" font-size="15.5" font-weight="normal" font-style="normal" text-anchor="start" textLength="27.4" lengthAdjust="spacingAndGlyphs" stroke="#000" stroke-width="0.35">O V</text>
<text x="380.6" y="982.2" font-family="Liberation Sans" font-size="15.5" font-weight="normal" font-style="normal" text-anchor="start" textLength="42.3" lengthAdjust="spacingAndGlyphs" stroke="#000" stroke-width="0.35">IOOV</text>
<text x="504.0" y="980.7" font-family="Liberation Sans" font-size="15.5" font-weight="normal" font-style="normal" text-anchor="start" textLength="49.7" lengthAdjust="spacingAndGlyphs" stroke="#000" stroke-width="0.35">3OOV</text>
<text x="635.0" y="980.7" font-family="Liberation Sans" font-size="15.5" font-weight="normal" font-style="normal" text-anchor="start" textLength="50.0" lengthAdjust="spacingAndGlyphs" stroke="#000" stroke-width="0.35">6OOV</text>
<text x="771.4" y="980.7" font-family="Liberation Sans" font-size="15.5" font-weight="normal" font-style="normal" text-anchor="start" textLength="54.9" lengthAdjust="spacingAndGlyphs" stroke="#000" stroke-width="0.35">IOOOV</text>
<path d="M208,994.0 Q222,994.4 237,986.3 Q266.5,1001.1 296.0,985.9 Q325.7,1000.7 355.4,985.5 Q384.5,1000.3 413.7,985.1 Q441.4,999.9 469.0,984.7 Q500.2,999.5 531.4,984.3 Q562.2,999.1 593.0,983.9 Q623.9,998.7 654.8,983.5 Q683.9,998.3 713.0,983.1 Q742.2,997.9 771.4,982.7 Q802.8,997.5 834.3,982.3 Q849,990.2 862.5,989.4" fill="none" stroke="#000" stroke-width="2"/>
<path d="M268.4,993.5 L268.6,1108.0" fill="none" stroke="#000" stroke-width="2"/>
<path d="M399.5,993.0 L399.7,1090.0" fill="none" stroke="#000" stroke-width="2"/>
<path d="M529.8,990.0 L530.0,1093.0" fill="none" stroke="#000" stroke-width="2"/>
<path d="M660.3,988.0 L660.6,1082.0" fill="none" stroke="#000" stroke-width="2"/>
<path d="M796.0,990.0 L796.4,1071.0" fill="none" stroke="#000" stroke-width="2"/>
<path d="M242.7,1120.2 L824.6,1118.5 L824.8,1133.2 L242.7,1133.6 Z" fill="#fff" stroke="#000" stroke-width="2.2"/>
<path d="M242.7,1133.0 L824.8,1132.3" fill="none" stroke="#000" stroke-width="3"/>
<path d="M823.5,1118.5 L823.8,1133.0" fill="none" stroke="#000" stroke-width="3.5"/>
<path d="M248.3,1132 L257.4,1121.3 M264.5,1132 L273.6,1121.3 M280.7,1132 L289.8,1121.3 M296.9,1132 L306.0,1121.3 M313.1,1132 L322.2,1121.3 M329.3,1132 L338.4,1121.3 M345.5,1132 L354.6,1121.3 M361.7,1132 L370.8,1121.3 M377.9,1132 L387.0,1121.3 M394.1,1132 L403.2,1121.3 M410.3,1132 L419.4,1121.3 M426.5,1132 L435.6,1121.3 M442.7,1132 L451.8,1121.3 M458.9,1132 L468.0,1121.3 M475.1,1132 L484.2,1121.3 M491.3,1132 L500.4,1121.3 M507.5,1132 L516.6,1121.3 M523.7,1132 L532.8,1121.3 M539.9,1132 L549.0,1121.3 M556.1,1132 L565.2,1121.3 M572.3,1132 L581.4,1121.3 M588.5,1132 L597.6,1121.3 M604.7,1132 L613.8,1121.3 M620.9,1132 L630.0,1121.3 M637.1,1132 L646.2,1121.3 M653.3,1132 L662.4,1121.3 M669.5,1132 L678.6,1121.3 M685.7,1132 L694.8,1121.3 M701.9,1132 L711.0,1121.3 M718.1,1132 L727.2,1121.3 M734.3,1132 L743.4,1121.3 M750.5,1132 L759.6,1121.3 M766.7,1132 L775.8,1121.3 M782.9,1132 L792.0,1121.3 M799.1,1132 L808.2,1121.3 M815.3,1132 L823.0,1121.3 " fill="none" stroke="#000" stroke-width="2.3"/>
<path d="M258.3,1120 L258.3,1108.3 L279.9,1108.3 L279.9,1120" fill="#fff" stroke="#000" stroke-width="2.2"/>
<path d="M279.9,1108.0 L279.9,1120.0" fill="none" stroke="#000" stroke-width="3.2"/>
<path d="M388.5,1120 L388.5,1108.3 L409.1,1108.3 L409.1,1120" fill="#fff" stroke="#000" stroke-width="2.2"/>
<path d="M409.1,1108.0 L409.1,1120.0" fill="none" stroke="#000" stroke-width="3.2"/>
<path d="M519.4,1120 L519.4,1108.3 L541,1108.3 L541,1120" fill="#fff" stroke="#000" stroke-width="2.2"/>
<path d="M541.0,1108.0 L541.0,1120.0" fill="none" stroke="#000" stroke-width="3.2"/>
<path d="M650.7,1120 L650.7,1108.3 L670.3,1108.3 L670.3,1120" fill="#fff" stroke="#000" stroke-width="2.2"/>
<path d="M670.3,1108.0 L670.3,1120.0" fill="none" stroke="#000" stroke-width="3.2"/>
<path d="M786.8,1120 L786.8,1108.3 L805,1108.3 L805,1120" fill="#fff" stroke="#000" stroke-width="2.2"/>
<path d="M805.0,1108.0 L805.0,1120.0" fill="none" stroke="#000" stroke-width="3.2"/>
<path d="M272.0,1106.0 C273.8,1102.5 275.5,1091.8 283.0,1085.0 C290.5,1078.2 304.3,1071.3 317.0,1065.0 C329.7,1058.7 345.7,1052.0 359.0,1047.0 C372.3,1042.0 385.0,1038.8 397.0,1035.0 C409.0,1031.2 418.2,1027.2 431.0,1024.0 C443.8,1020.8 459.8,1018.5 474.0,1015.5 C488.2,1012.5 502.0,1008.9 516.0,1006.0 C530.0,1003.1 543.7,1000.5 558.0,998.3 C572.3,996.0 588.3,993.8 602.0,992.5 C615.7,991.2 627.0,990.7 640.0,990.5 C653.0,990.3 668.7,990.2 680.0,991.5 C691.3,992.8 697.5,994.2 708.0,998.0 C718.5,1001.8 732.3,1007.5 743.0,1014.0 C753.7,1020.5 764.5,1029.0 772.0,1037.0 C779.5,1045.0 784.2,1054.2 788.0,1062.0 C791.8,1069.8 793.5,1077.0 795.0,1084.0 C796.5,1091.0 796.7,1100.7 797.0,1104.0" fill="none" stroke="#000" stroke-width="1.9" stroke-dasharray="13 5"/>
<path d="M274.0,1106.0 C276.2,1103.0 278.8,1094.0 287.0,1088.0 C295.2,1082.0 309.7,1076.0 323.0,1070.0 C336.3,1064.0 353.3,1057.2 367.0,1052.0 C380.7,1046.8 392.3,1042.9 405.0,1039.0 C417.7,1035.1 429.2,1031.7 443.0,1028.5 C456.8,1025.3 474.2,1022.5 488.0,1020.0 C501.8,1017.5 511.8,1016.3 526.0,1013.5 C540.2,1010.7 558.8,1005.8 573.0,1003.0 C587.2,1000.2 599.0,997.8 611.0,996.5 C623.0,995.2 633.7,994.7 645.0,995.0 C656.3,995.3 669.2,996.9 679.0,998.5 C688.8,1000.1 694.5,1001.9 704.0,1004.8 C713.5,1007.7 725.8,1010.6 736.0,1016.0 C746.2,1021.4 757.3,1029.7 765.0,1037.0 C772.7,1044.3 777.5,1052.2 782.0,1060.0 C786.5,1067.8 790.0,1076.7 792.0,1084.0 C794.0,1091.3 793.7,1100.7 794.0,1104.0" fill="none" stroke="#000" stroke-width="1.9" stroke-dasharray="13 5"/>
<path d="M276.0,1106.0 C279.7,1102.8 288.0,1093.7 298.0,1087.0 C308.0,1080.3 324.5,1071.1 336.0,1066.0 C347.5,1060.9 356.8,1059.3 367.0,1056.5 C377.2,1053.7 388.2,1050.7 397.0,1049.0 C405.8,1047.3 412.7,1046.7 420.0,1046.5 C427.3,1046.3 433.5,1046.8 441.0,1048.0 C448.5,1049.2 457.5,1051.4 465.0,1053.6 C472.5,1055.8 480.0,1058.4 486.0,1061.0 C492.0,1063.6 496.3,1065.7 501.0,1069.0 C505.7,1072.3 510.3,1076.8 514.0,1081.0 C517.7,1085.2 520.8,1090.2 523.0,1094.0 C525.2,1097.8 526.3,1102.3 527.0,1104.0" fill="none" stroke="#000" stroke-width="1.9" stroke-dasharray="13 5"/>
<path d="M277.0,1106.0 C279.2,1104.8 284.9,1100.9 290.0,1099.0 C295.1,1097.1 301.5,1095.8 307.6,1094.8 C313.7,1093.8 320.4,1093.1 326.7,1092.9 C333.0,1092.7 339.0,1092.8 345.7,1093.8 C352.4,1094.8 358.6,1096.6 366.7,1098.6 C374.8,1100.6 389.4,1104.8 394.0,1106.0" fill="none" stroke="#000" stroke-width="1.9" stroke-dasharray="13 5"/>
<path d="M402.0,1104.0 C404.3,1099.6 409.5,1085.8 416.0,1077.6 C422.5,1069.4 433.7,1060.6 441.0,1054.8 C448.3,1049.0 453.5,1046.8 460.0,1043.0 C466.5,1039.2 472.3,1035.8 480.0,1032.0 C487.7,1028.2 498.3,1023.7 506.0,1020.5 C513.7,1017.3 518.7,1014.8 526.0,1013.0 C533.3,1011.2 542.2,1009.8 550.0,1010.0 C557.8,1010.2 565.5,1012.2 573.0,1014.0 C580.5,1015.8 588.0,1018.0 595.0,1021.0 C602.0,1024.0 608.8,1027.8 615.0,1032.0 C621.2,1036.2 626.8,1040.7 632.0,1046.0 C637.2,1051.3 642.3,1057.8 646.0,1064.0 C649.7,1070.2 652.0,1076.3 654.0,1083.0 C656.0,1089.7 657.3,1100.5 658.0,1104.0" fill="none" stroke="#000" stroke-width="1.9" stroke-dasharray="13 5"/>
<path d="M404.0,1105.0 C407.3,1101.0 416.3,1088.2 424.0,1081.0 C431.7,1073.8 442.3,1067.2 450.0,1062.0 C457.7,1056.8 462.5,1054.5 470.0,1050.0 C477.5,1045.5 487.0,1038.8 495.0,1035.0 C503.0,1031.2 510.5,1029.2 518.0,1027.5 C525.5,1025.8 533.0,1025.3 540.0,1025.0 C547.0,1024.7 553.3,1024.7 560.0,1025.5 C566.7,1026.3 573.0,1027.4 580.0,1030.0 C587.0,1032.6 595.0,1037.0 602.0,1041.0 C609.0,1045.0 616.0,1049.5 622.0,1054.0 C628.0,1058.5 633.3,1063.0 638.0,1068.0 C642.7,1073.0 647.0,1078.0 650.0,1084.0 C653.0,1090.0 655.0,1100.7 656.0,1104.0" fill="none" stroke="#000" stroke-width="1.9" stroke-dasharray="13 5"/>
<path d="M403.0,1106.0 C405.6,1104.5 413.2,1099.3 418.4,1096.7 C423.5,1094.1 428.6,1092.1 433.8,1090.4 C438.9,1088.6 444.0,1087.3 449.1,1086.4 C454.2,1085.5 459.4,1085.0 464.5,1085.0 C469.6,1085.0 474.8,1085.5 479.9,1086.4 C485.0,1087.3 490.1,1088.6 495.2,1090.4 C500.4,1092.1 505.5,1094.1 510.6,1096.7 C515.8,1099.3 523.4,1104.5 526.0,1106.0" fill="none" stroke="#000" stroke-width="1.9" stroke-dasharray="13 5"/>
<path d="M406.0,1106.5 C408.4,1105.6 415.8,1102.7 420.6,1101.2 C425.5,1099.7 430.4,1098.5 435.2,1097.6 C440.1,1096.6 445.0,1095.8 449.9,1095.3 C454.8,1094.8 459.6,1094.5 464.5,1094.5 C469.4,1094.5 474.2,1094.8 479.1,1095.3 C484.0,1095.8 488.9,1096.6 493.8,1097.6 C498.6,1098.5 503.5,1099.7 508.4,1101.2 C513.2,1102.7 520.6,1105.6 523.0,1106.5" fill="none" stroke="#000" stroke-width="1.9" stroke-dasharray="13 5"/>
<path d="M533.0,1104.0 C534.7,1100.5 538.2,1089.5 543.0,1083.0 C547.8,1076.5 555.0,1071.7 562.0,1065.0 C569.0,1058.3 577.0,1049.5 585.0,1043.0 C593.0,1036.5 600.8,1030.9 610.0,1026.0 C619.2,1021.1 631.0,1016.5 640.0,1013.6 C649.0,1010.7 656.7,1009.6 664.0,1008.6 C671.3,1007.6 676.3,1007.1 684.0,1007.5 C691.7,1007.9 700.3,1008.0 710.0,1011.0 C719.7,1014.0 732.8,1020.0 742.0,1025.7 C751.2,1031.4 758.5,1038.6 765.0,1045.0 C771.5,1051.4 776.8,1057.7 781.0,1064.0 C785.2,1070.3 788.0,1076.3 790.0,1083.0 C792.0,1089.7 792.5,1100.5 793.0,1104.0" fill="none" stroke="#000" stroke-width="1.9" stroke-dasharray="13 5"/>
<path d="M533.0,1106.0 C535.6,1103.5 543.3,1095.2 548.5,1091.0 C553.7,1086.8 558.8,1083.5 564.0,1080.7 C569.2,1077.9 574.3,1075.7 579.5,1074.2 C584.7,1072.8 589.8,1072.0 595.0,1072.0 C600.2,1072.0 605.3,1072.8 610.5,1074.2 C615.7,1075.7 620.8,1077.9 626.0,1080.7 C631.2,1083.5 636.3,1086.8 641.5,1091.0 C646.7,1095.2 654.4,1103.5 657.0,1106.0" fill="none" stroke="#000" stroke-width="1.9" stroke-dasharray="13 5"/>
<path d="M535.0,1106.0 C537.5,1104.3 545.0,1098.7 550.0,1095.8 C555.0,1093.0 560.0,1090.8 565.0,1088.9 C570.0,1087.0 575.0,1085.5 580.0,1084.5 C585.0,1083.5 590.0,1083.0 595.0,1083.0 C600.0,1083.0 605.0,1083.5 610.0,1084.5 C615.0,1085.5 620.0,1087.0 625.0,1088.9 C630.0,1090.8 635.0,1093.0 640.0,1095.8 C645.0,1098.7 652.5,1104.3 655.0,1106.0" fill="none" stroke="#000" stroke-width="1.9" stroke-dasharray="13 5"/>
<path d="M538.0,1106.0 C540.4,1105.1 547.5,1102.2 552.2,1100.7 C557.0,1099.2 561.8,1098.0 566.5,1097.1 C571.2,1096.1 576.0,1095.3 580.8,1094.8 C585.5,1094.3 590.2,1094.0 595.0,1094.0 C599.8,1094.0 604.5,1094.3 609.2,1094.8 C614.0,1095.3 618.8,1096.1 623.5,1097.1 C628.2,1098.0 633.0,1099.2 637.8,1100.7 C642.5,1102.2 649.6,1105.1 652.0,1106.0" fill="none" stroke="#000" stroke-width="1.9" stroke-dasharray="13 5"/>
<path d="M663.0,1106.0 C665.8,1101.9 674.0,1088.2 679.5,1081.2 C685.0,1074.3 690.5,1068.9 696.0,1064.3 C701.5,1059.7 707.0,1056.0 712.5,1053.6 C718.0,1051.3 723.5,1050.0 729.0,1050.0 C734.5,1050.0 740.0,1051.3 745.5,1053.6 C751.0,1056.0 756.5,1059.7 762.0,1064.3 C767.5,1068.9 773.0,1074.3 778.5,1081.2 C784.0,1088.2 792.2,1101.9 795.0,1106.0" fill="none" stroke="#000" stroke-width="1.9" stroke-dasharray="13 5"/>
<path d="M665.0,1106.0 C667.6,1103.3 675.6,1094.6 680.9,1090.1 C686.2,1085.6 691.5,1082.1 696.8,1079.2 C702.0,1076.2 707.3,1073.9 712.6,1072.3 C717.9,1070.8 723.2,1070.0 728.5,1070.0 C733.8,1070.0 739.1,1070.8 744.4,1072.3 C749.7,1073.9 755.0,1076.2 760.2,1079.2 C765.5,1082.1 770.8,1085.6 776.1,1090.1 C781.4,1094.6 789.4,1103.3 792.0,1106.0" fill="none" stroke="#000" stroke-width="1.9" stroke-dasharray="13 5"/>
<path d="M667.0,1106.0 C669.6,1104.2 677.2,1098.4 682.4,1095.4 C687.5,1092.4 692.6,1090.1 697.8,1088.1 C702.9,1086.2 708.0,1084.6 713.1,1083.6 C718.2,1082.5 723.4,1082.0 728.5,1082.0 C733.6,1082.0 738.8,1082.5 743.9,1083.6 C749.0,1084.6 754.1,1086.2 759.2,1088.1 C764.4,1090.1 769.5,1092.4 774.6,1095.4 C779.8,1098.4 787.4,1104.2 790.0,1106.0" fill="none" stroke="#000" stroke-width="1.9" stroke-dasharray="13 5"/>
<path d="M670.0,1106.0 C672.4,1105.0 679.8,1101.6 684.6,1099.8 C689.5,1098.1 694.4,1096.7 699.2,1095.6 C704.1,1094.4 709.0,1093.5 713.9,1092.9 C718.8,1092.3 723.6,1092.0 728.5,1092.0 C733.4,1092.0 738.2,1092.3 743.1,1092.9 C748.0,1093.5 752.9,1094.4 757.8,1095.6 C762.6,1096.7 767.5,1098.1 772.4,1099.8 C777.2,1101.6 784.6,1105.0 787.0,1106.0" fill="none" stroke="#000" stroke-width="1.9" stroke-dasharray="13 5"/>
<text x="222.3" y="1109.0" font-family="Liberation Sans" font-size="16" font-weight="normal" font-style="italic" text-anchor="start" stroke="#000" stroke-width="0.35">3</text>
<path d="M232,1101 C240,1099 243,1103 246,1108 C249,1113 252,1114 258,1114" fill="none" stroke="#000" stroke-width="1.5"/>
<text x="349.8" y="1116.8" font-family="Liberation Sans" font-size="16" font-weight="normal" font-style="italic" text-anchor="start" stroke="#000" stroke-width="0.35">4</text>
<path d="M360,1109 C366,1107 368,1109 371,1112 C374,1115 380,1115 388,1114" fill="none" stroke="#000" stroke-width="1.5"/>
<text x="477.7" y="1116.8" font-family="Liberation Sans" font-size="16" font-weight="normal" font-style="italic" text-anchor="start" stroke="#000" stroke-width="0.35">5</text>
<path d="M488,1109 C494,1107 497,1109 500,1112 C503,1115 510,1115 519,1114" fill="none" stroke="#000" stroke-width="1.5"/>
<text x="612.0" y="1115.0" font-family="Liberation Sans" font-size="16" font-weight="normal" font-style="italic" text-anchor="start" stroke="#000" stroke-width="0.35">6</text>
<path d="M622,1108 C628,1106 631,1108 634,1111 C637,1114 642,1114 650,1114" fill="none" stroke="#000" stroke-width="1.5"/>
<text x="812.0" y="1113.4" font-family="Liberation Sans" font-size="16" font-weight="normal" font-style="italic" text-anchor="start" stroke="#000" stroke-width="0.35">7</text>
<path d="M805,1112 C808,1112 809,1106 811,1104 C812,1102 814,1102 816,1102" fill="none" stroke="#000" stroke-width="1.5"/>
<text x="754.0" y="1159.0" font-family="Liberation Sans" font-size="16" font-weight="normal" font-style="italic" text-anchor="start" stroke="#000" stroke-width="0.35">2</text>
<path d="M765,1153 C772,1153 776,1150 777,1145 C778,1140 778,1136 778,1133" fill="none" stroke="#000" stroke-width="1.5"/>
<text x="326.8" y="1043.0" font-family="Liberation Sans" font-size="16" font-weight="normal" font-style="italic" text-anchor="start" textLength="17.0" lengthAdjust="spacingAndGlyphs" stroke="#000" stroke-width="0.35">3I</text>
<path d="M345,1037 C350,1033 354,1035 353,1040 C352,1045 355,1048 360,1048" fill="none" stroke="#000" stroke-width="1.5"/>
<text transform="translate(440.8 1155.7) scale(0.9 1)" x="0" y="0" font-family="Liberation Sans" font-size="15.5" font-weight="normal" font-style="normal" text-anchor="start" textLength="124.4" lengthAdjust="spacing" stroke="#000" stroke-width="0.4">STREAMBED-</text>
<text x="556.0" y="1155.7" font-family="Liberation Sans" font-size="16" font-weight="normal" font-style="italic" text-anchor="start" textLength="27.0" lengthAdjust="spacingAndGlyphs" stroke="#000" stroke-width="0.35">30</text>
<path d="M588,1151 C593,1147 598,1148 603,1151 C607,1154 612,1153 617,1149" fill="none" stroke="#000" stroke-width="1.6"/>
<path d="M709.1 1173.0h.2M513.3 1172.0h.2M701.5 1157.0h.2M620.2 1170.1h.2M713.5 1140.7h.2M555.4 1159.0h.2M610.8 1173.8h.2M582.8 1139.7h.2M346.0 1150.5h.2M487.4 1159.5h.2M400.7 1149.4h.2M654.3 1150.9h.2M426.2 1142.0h.2M581.7 1159.4h.2M707.1 1160.2h.2M779.9 1171.3h.2M701.3 1136.8h.2M824.0 1151.8h.2M765.6 1144.7h.2M344.9 1163.8h.2M436.3 1161.7h.2M719.9 1165.5h.2M760.1 1144.8h.2M394.0 1159.5h.2M343.6 1140.3h.2M469.7 1164.8h.2M680.8 1136.8h.2M738.3 1154.5h.2M317.4 1143.6h.2M680.0 1149.6h.2M689.9 1169.5h.2M642.8 1160.1h.2M374.4 1150.1h.2M699.6 1145.3h.2M576.4 1166.0h.2M755.8 1163.5h.2M739.2 1150.5h.2M785.1 1165.0h.2M501.4 1140.6h.2M391.5 1169.1h.2M639.6 1172.9h.2M308.6 1164.5h.2M613.9 1166.0h.2M785.6 1147.0h.2M272.2 1159.4h.2M535.6 1161.6h.2M342.2 1158.6h.2M670.3 1164.1h.2M435.7 1139.2h.2M683.8 1139.3h.2M818.8 1168.9h.2M754.4 1172.3h.2M257.9 1140.0h.2M475.5 1172.8h.2M823.6 1159.3h.2M681.8 1173.9h.2M331.7 1159.1h.2M520.2 1173.0h.2M317.2 1160.6h.2M764.4 1151.1h.2M452.5 1172.4h.2M803.1 1153.8h.2M804.8 1166.0h.2M301.9 1155.5h.2M410.8 1141.2h.2M744.4 1145.6h.2M300.2 1162.7h.2M377.5 1152.9h.2M543.8 1162.9h.2M562.1 1161.6h.2M399.1 1160.4h.2M475.5 1166.0h.2M692.9 1142.3h.2M499.8 1165.0h.2M487.7 1136.5h.2M731.7 1171.6h.2M821.0 1141.5h.2M422.8 1147.3h.2M795.3 1150.4h.2M645.2 1137.3h.2M762.8 1165.7h.2M729.8 1141.2h.2M777.8 1142.2h.2M564.4 1140.0h.2M264.5 1153.9h.2M467.7 1171.2h.2M562.3 1166.0h.2M675.4 1168.8h.2M690.1 1165.2h.2M269.3 1138.6h.2M624.1 1142.4h.2M329.3 1145.9h.2M449.0 1139.3h.2M358.6 1157.8h.2M775.8 1169.8h.2M543.8 1167.9h.2M257.1 1149.4h.2M775.7 1161.6h.2M352.5 1146.0h.2M413.6 1150.0h.2M334.7 1155.3h.2M284.8 1139.3h.2M786.7 1156.6h.2M242.5 1150.2h.2M621.5 1146.9h.2M705.8 1142.8h.2M316.5 1148.0h.2M819.7 1161.3h.2M729.2 1145.8h.2M251.7 1151.2h.2M434.0 1173.1h.2M322.6 1157.0h.2M296.0 1164.6h.2M237.1 1149.0h.2M405.5 1146.1h.2M403.9 1136.9h.2M272.1 1149.2h.2M658.9 1158.2h.2M532.2 1136.8h.2M593.8 1140.0h.2M829.7 1164.8h.2M544.8 1159.1h.2M771.7 1171.5h.2M288.9 1156.3h.2M375.8 1164.8h.2M714.9 1163.6h.2M516.3 1137.1h.2M635.0 1161.3h.2M711.3 1147.3h.2M828.6 1139.7h.2M238.8 1155.8h.2M409.2 1161.6h.2M629.6 1163.4h.2M503.3 1160.7h.2M444.1 1159.6h.2M722.5 1147.8h.2M691.0 1159.0h.2M592.8 1162.9h.2M420.8 1163.2h.2M352.6 1159.4h.2M802.7 1158.5h.2M561.1 1176.0h.2M323.7 1165.3h.2M610.7 1136.6h.2M465.8 1137.9h.2M238.7 1138.6h.2M364.9 1162.0h.2M720.3 1141.3h.2M790.2 1154.3h.2M347.8 1156.2h.2M357.0 1142.1h.2M483.8 1137.0h.2M430.5 1157.2h.2M339.7 1162.1h.2M403.3 1161.7h.2M577.1 1161.9h.2M392.7 1145.6h.2M278.3 1159.8h.2M657.6 1143.3h.2M791.7 1158.0h.2M372.9 1144.6h.2M550.1 1162.5h.2M407.4 1153.8h.2M723.2 1160.6h.2M724.7 1141.9h.2M633.7 1144.7h.2M637.4 1155.9h.2M812.6 1156.4h.2M694.6 1174.7h.2M704.6 1153.0h.2M663.9 1165.3h.2M572.5 1172.7h.2M597.6 1160.8h.2M633.8 1138.1h.2M624.4 1162.1h.2M769.2 1154.3h.2M788.4 1144.1h.2M428.6 1152.6h.2M488.3 1163.9h.2M816.8 1136.9h.2M539.6 1139.1h.2M441.4 1162.7h.2M774.2 1165.3h.2M324.8 1151.7h.2M572.6 1139.3h.2M736.4 1145.1h.2M399.6 1167.5h.2M415.8 1169.6h.2M438.0 1171.3h.2M302.7 1149.3h.2M686.0 1152.2h.2M460.3 1171.7h.2M799.4 1160.3h.2M242.8 1143.1h.2M654.9 1173.9h.2M661.4 1136.8h.2M734.3 1163.8h.2M386.4 1163.0h.2M506.1 1175.0h.2M620.5 1175.3h.2M360.2 1162.8h.2M681.1 1155.1h.2M598.8 1166.1h.2M370.4 1161.6h.2M532.5 1168.5h.2M797.1 1139.3h.2M727.7 1151.5h.2M321.8 1144.6h.2M676.7 1144.7h.2M731.0 1155.0h.2M292.8 1142.1h.2M389.7 1139.3h.2M681.8 1144.2h.2M567.2 1168.1h.2M730.4 1136.5h.2M815.7 1152.1h.2M794.9 1161.6h.2M296.8 1149.4h.2M695.5 1157.4h.2M627.9 1155.9h.2M296.0 1156.5h.2M668.9 1159.7h.2M486.4 1169.8h.2M383.1 1145.5h.2M363.1 1154.5h.2M631.4 1158.3h.2M432.0 1147.8h.2M652.1 1166.8h.2M317.8 1137.4h.2M538.9 1166.9h.2M640.8 1169.3h.2M367.7 1144.5h.2M644.3 1153.6h.2M767.2 1168.2h.2M259.3 1161.3h.2M638.7 1164.0h.2M299.9 1142.0h.2M654.6 1138.0h.2M670.7 1149.2h.2M697.1 1171.5h.2M367.1 1137.5h.2M500.7 1170.8h.2M743.1 1164.9h.2M589.0 1138.2h.2M649.4 1142.6h.2M742.9 1153.3h.2M527.4 1139.1h.2M775.1 1136.7h.2M450.1 1165.8h.2M619.7 1165.1h.2M420.2 1157.7h.2M823.6 1166.3h.2M680.1 1163.1h.2M621.5 1139.3h.2M800.0 1146.2h.2M264.5 1143.6h.2M387.8 1145.8h.2M445.9 1175.3h.2M749.2 1166.4h.2M778.1 1152.8h.2M684.9 1156.3h.2M247.9 1138.7h.2M456.1 1140.5h.2M632.1 1167.3h.2M307.2 1160.9h.2M663.0 1143.3h.2M703.2 1164.7h.2M244.8 1147.1h.2M707.4 1166.0h.2M790.1 1166.7h.2M558.0 1167.6h.2M406.3 1170.6h.2M757.0 1141.2h.2M286.2 1148.6h.2M674.6 1137.2h.2M521.2 1140.5h.2M493.4 1138.3h.2M413.3 1155.5h.2M730.8 1165.8h.2M790.0 1147.9h.2M795.6 1169.8h.2M257.2 1158.0h.2M720.3 1154.3h.2M413.2 1144.3h.2M732.5 1149.2h.2M385.5 1159.1h.2M375.4 1168.6h.2M750.6 1147.7h.2M630.1 1173.9h.2M518.1 1159.5h.2" stroke="#000" stroke-width="2.20" stroke-linecap="round" fill="none"/>
<path d="M856.0,1007.4 L918.0,1007.4" fill="none" stroke="#000" stroke-width="2.4"/>
<path d="M837.8,1007.4 L856.8,996.6 Q854.8,1007.4 856.8,1018.1 Z" fill="#000" stroke="#000" stroke-width="1"/>
<path d="M857.0,1065.3 L918.0,1065.3" fill="none" stroke="#000" stroke-width="2.4"/>
<path d="M838.9,1065.3 L857.9,1054.5 Q855.9,1065.3 857.9,1076.0 Z" fill="#000" stroke="#000" stroke-width="1"/>
<text transform="translate(821.3 1045.8) scale(0.9 1)" x="0" y="0" font-family="Liberation Sans" font-size="16.5" font-weight="normal" font-style="normal" text-anchor="start" textLength="130.4" lengthAdjust="spacing" stroke="#000" stroke-width="0.4">WATER  FLOW</text>
<g transform="translate(160.7,1014.6)" fill="none" stroke="#000" stroke-width="1.8"><path d="M6,0 C12,-5 25,-6 34,-5 C40,-4 45,-2 47,0 C45,2 40,4 34,5 C25,6 12,5 6,0 Z" fill="#fff"/><path d="M6,0 L0,-5 L1.5,0 L0,5 Z" fill="#fff"/><path d="M24,-5.5 L25,-8.5 L31,-5.2"/><path d="M24,5.3 L25,8 L29,5.5"/><circle cx="41" cy="-0.3" r="0.6" fill="#000"/></g>
<g transform="translate(172.7,1023.2)" fill="none" stroke="#000" stroke-width="1.8"><path d="M6,0 C12,-5 25,-6 34,-5 C40,-4 45,-2 47,0 C45,2 40,4 34,5 C25,6 12,5 6,0 Z" fill="#fff"/><path d="M6,0 L0,-5 L1.5,0 L0,5 Z" fill="#fff"/><path d="M24,-5.5 L25,-8.5 L31,-5.2"/><path d="M24,5.3 L25,8 L29,5.5"/><circle cx="41" cy="-0.3" r="0.6" fill="#000"/></g>
<g transform="translate(157.3,1069.6)" fill="none" stroke="#000" stroke-width="1.8"><path d="M6,0 C12,-5 25,-6 34,-5 C40,-4 45,-2 47,0 C45,2 40,4 34,5 C25,6 12,5 6,0 Z" fill="#fff"/><path d="M6,0 L0,-5 L1.5,0 L0,5 Z" fill="#fff"/><path d="M24,-5.5 L25,-8.5 L31,-5.2"/><path d="M24,5.3 L25,8 L29,5.5"/><circle cx="41" cy="-0.3" r="0.6" fill="#000"/></g>
<text x="212.6" y="1055.3" font-family="Liberation Sans" font-size="16" font-weight="normal" font-style="italic" text-anchor="start" stroke="#000" stroke-width="0.35">9</text>
<path d="M196.7,1030 C199,1034 197,1038 195,1041 C193,1045 195,1048 200,1047 C203,1046 205,1046 208.5,1046.5" fill="none" stroke="#000" stroke-width="1.5"/>
<text transform="translate(830.0 1265.2) scale(0.8 1)" x="0" y="0" font-family="Liberation Sans" font-size="23.5" font-weight="normal" font-style="normal" text-anchor="start" textLength="82.5" lengthAdjust="spacing" stroke="#000" stroke-width="0.25">FIG.3</text>
<text x="152.7" y="1281.7" font-family="Liberation Sans" font-size="18.5" font-weight="normal" font-style="normal" text-anchor="start" textLength="50.6" lengthAdjust="spacingAndGlyphs" stroke="#000" stroke-width="0.7">FIELD</text>
<text x="158.0" y="1311.3" font-family="Liberation Sans" font-size="18.5" font-weight="normal" font-style="normal" text-anchor="start" textLength="40.6" lengthAdjust="spacingAndGlyphs" stroke="#000" stroke-width="0.7">V/CM</text>
<text x="229.0" y="1254.8" font-family="Liberation Sans" font-size="15.5" font-weight="normal" font-style="normal" text-anchor="start" textLength="23.5" lengthAdjust="spacingAndGlyphs" stroke="#000" stroke-width="0.7">5.O</text>
<text x="218.1" y="1280.1" font-family="Liberation Sans" font-size="15.5" font-weight="normal" font-style="normal" text-anchor="start" textLength="34.4" lengthAdjust="spacingAndGlyphs" stroke="#000" stroke-width="0.7">3.75</text>
<text x="216.3" y="1306.4" font-family="Liberation Sans" font-size="15.5" font-weight="normal" font-style="normal" text-anchor="start" textLength="36.2" lengthAdjust="spacingAndGlyphs" stroke="#000" stroke-width="0.7">2.5O</text>
<text x="222.7" y="1334.4" font-family="Liberation Sans" font-size="15.5" font-weight="normal" font-style="normal" text-anchor="start" textLength="29.8" lengthAdjust="spacingAndGlyphs" stroke="#000" stroke-width="0.7">I.25</text>
<path d="M255.2,1248.5 L799.2,1246.0" fill="none" stroke="#000" stroke-width="2.8"/>
<path d="M267.5,1248.5 L267.5,1354.3" fill="none" stroke="#000" stroke-width="2.4"/>
<path d="M255.2,1273.8 L272.4,1273.8" fill="none" stroke="#000" stroke-width="2"/>
<path d="M255.2,1299.7 L272.4,1299.7" fill="none" stroke="#000" stroke-width="2"/>
<path d="M255.2,1328.6 L272.4,1328.6" fill="none" stroke="#000" stroke-width="2"/>
<path d="M272.4,1226.8 L272.4,1243.0" fill="none" stroke="#000" stroke-width="1.8"/>
<path d="M799.2,1246.0 L799.5,1352.5" fill="none" stroke="#000" stroke-width="2.6"/>
<path d="M793.5,1270.0 L799.2,1270.0" fill="none" stroke="#000" stroke-width="2"/>
<path d="M793.5,1296.0 L799.2,1296.0" fill="none" stroke="#000" stroke-width="2"/>
<path d="M793.5,1326.0 L799.2,1326.0" fill="none" stroke="#000" stroke-width="2"/>
<path d="M788.8,1222.0 L788.8,1240.0" fill="none" stroke="#000" stroke-width="1.8"/>
<path d="M399.9,1247.3 L399.9,1307.0" fill="none" stroke="#000" stroke-width="1.7"/>
<path d="M399.9,1338.4 L399.9,1353.5" fill="none" stroke="#000" stroke-width="1.7"/>
<path d="M529.8,1246.8 L529.8,1290.7" fill="none" stroke="#000" stroke-width="2"/>
<path d="M529.8,1316.3 L529.8,1352.5" fill="none" stroke="#000" stroke-width="2"/>
<path d="M661.2,1246.3 L661.2,1259.6" fill="none" stroke="#000" stroke-width="1.5"/>
<path d="M661.2,1290.3 L661.2,1331.7" fill="none" stroke="#000" stroke-width="1.5"/>
<path d="M661.2,1342.0 L661.2,1352.0" fill="none" stroke="#000" stroke-width="1.5"/>
<path d="M220.0,1368.3 L831.2,1365.2" fill="none" stroke="#000" stroke-width="2.2"/>
<path d="M256.7,1368 L256.7,1354.3 L278.4,1354.3 L278.4,1368" fill="#fff" stroke="#000" stroke-width="2.2"/>
<path d="M278.4,1354.3 L278.4,1368.0" fill="none" stroke="#000" stroke-width="3.2"/>
<path d="M388.9,1367.3 L388.9,1354.1 L410.2,1354.1 L410.2,1367.3" fill="#fff" stroke="#000" stroke-width="2.2"/>
<path d="M410.2,1354.1 L410.2,1367.3" fill="none" stroke="#000" stroke-width="3.2"/>
<path d="M519.3,1366.6 L519.3,1353.2 L542.2,1353.2 L542.2,1366.6" fill="#fff" stroke="#000" stroke-width="2.2"/>
<path d="M542.2,1353.2 L542.2,1366.6" fill="none" stroke="#000" stroke-width="3.2"/>
<path d="M652.2,1366 L652.2,1353 L672.3,1353 L672.3,1366" fill="#fff" stroke="#000" stroke-width="2.2"/>
<path d="M672.3,1353.0 L672.3,1366.0" fill="none" stroke="#000" stroke-width="3.2"/>
<path d="M788,1365.5 L788,1352.5 L807.2,1352.5 L807.2,1365.5" fill="#fff" stroke="#000" stroke-width="2.2"/>
<path d="M807.2,1352.5 L807.2,1365.5" fill="none" stroke="#000" stroke-width="3.2"/>
<path d="M267.5,1334.1 L393.2,1334.0 L407.7,1313.3 L525.6,1313.3 L538.1,1288.1 L655.4,1288.0 L665.4,1267.1 L799.2,1266.8" fill="none" stroke="#000" stroke-width="2"/>
<path d="M272.4,1251.2 C273.3,1254.2 275.9,1264.5 277.9,1269.3 C279.9,1274.1 281.3,1276.2 284.2,1280.1 C287.1,1284.0 291.7,1289.2 295.0,1292.8 C298.3,1296.4 300.2,1298.6 304.1,1301.9 C308.0,1305.2 313.2,1309.4 318.6,1312.7 C324.0,1316.0 330.7,1319.2 336.7,1321.8 C342.7,1324.4 348.9,1326.3 354.8,1328.1 C360.7,1329.9 364.2,1330.8 372.0,1332.5 C379.8,1334.2 391.7,1336.7 401.4,1338.4 C411.1,1340.1 419.5,1341.2 430.0,1342.5 C440.5,1343.8 452.6,1345.3 464.3,1346.3 C476.0,1347.3 489.0,1347.9 500.0,1348.3 C511.0,1348.7 520.3,1348.8 530.3,1348.8 C540.3,1348.8 550.0,1348.4 560.0,1348.0 C570.0,1347.6 578.3,1347.2 590.0,1346.3 C601.7,1345.4 618.2,1343.8 630.0,1342.5 C641.8,1341.2 649.0,1340.4 660.7,1338.4 C672.4,1336.4 688.5,1333.7 700.0,1330.6 C711.5,1327.5 720.8,1324.4 730.0,1320.0 C739.2,1315.6 748.0,1309.3 755.0,1304.0 C762.0,1298.7 767.3,1293.3 772.0,1288.0 C776.7,1282.7 780.4,1276.3 783.0,1272.0 C785.6,1267.7 786.5,1265.5 787.5,1262.0 C788.5,1258.5 788.8,1252.8 789.0,1251.0" fill="none" stroke="#000" stroke-width="1.9" stroke-dasharray="16 7"/>
<text x="426.0" y="1237.0" font-family="Liberation Sans" font-size="16" font-weight="normal" font-style="italic" text-anchor="start" textLength="18.0" lengthAdjust="spacingAndGlyphs" stroke="#000" stroke-width="0.35">4I</text>
<path d="M446,1229 C450,1226 453,1228 453,1232 C453,1237 454,1242 454.5,1247" fill="none" stroke="#000" stroke-width="1.5"/>
<text x="303.2" y="1353.4" font-family="Liberation Sans" font-size="16" font-weight="normal" font-style="italic" text-anchor="start" textLength="21.7" lengthAdjust="spacingAndGlyphs" stroke="#000" stroke-width="0.35">42</text>
<path d="M327.6,1345.3 C331,1343 334,1346 337,1348 C341,1349 344,1345 344.8,1335" fill="none" stroke="#000" stroke-width="1.5"/>
<text x="438.6" y="1298.7" font-family="Liberation Sans" font-size="16" font-weight="normal" font-style="italic" text-anchor="start" textLength="21.7" lengthAdjust="spacingAndGlyphs" stroke="#000" stroke-width="0.35">43</text>
<path d="M440,1293 C435,1293 433,1296 433,1300 C433,1304 434,1308 433.5,1313" fill="none" stroke="#000" stroke-width="1.5"/>
<text x="564.0" y="1282.0" font-family="Liberation Sans" font-size="16" font-weight="normal" font-style="italic" text-anchor="start" textLength="26.0" lengthAdjust="spacingAndGlyphs" stroke="#000" stroke-width="0.35">44</text>
<path d="M590,1274 C595,1272 600,1272 601,1275 C602,1279 599,1281 599.5,1288" fill="none" stroke="#000" stroke-width="1.5"/>
<text x="680.0" y="1288.5" font-family="Liberation Sans" font-size="16" font-weight="normal" font-style="italic" text-anchor="start" textLength="22.0" lengthAdjust="spacingAndGlyphs" stroke="#000" stroke-width="0.35">45</text>
<path d="M703,1284 C710,1284 715,1282 716,1278 C717,1273 717,1270 718,1267" fill="none" stroke="#000" stroke-width="1.5"/>
<text x="318.6" y="1286.5" font-family="Liberation Sans" font-size="16" font-weight="normal" font-style="italic" text-anchor="start" textLength="21.3" lengthAdjust="spacingAndGlyphs" stroke="#000" stroke-width="0.35">46</text>
<path d="M318,1281 C312,1281 310,1284 309,1289 C308,1294 307,1297 305.5,1300.5" fill="none" stroke="#000" stroke-width="1.5"/>
<text x="220.9" y="1360.7" font-family="Liberation Sans" font-size="16" font-weight="normal" font-style="italic" text-anchor="start" stroke="#000" stroke-width="0.35">3</text>
<path d="M231,1353 C236,1351 239,1353 242,1357 C245,1361 250,1361 256.5,1361" fill="none" stroke="#000" stroke-width="1.5"/>
<text x="818.0" y="1358.0" font-family="Liberation Sans" font-size="16" font-weight="normal" font-style="italic" text-anchor="start" stroke="#000" stroke-width="0.35">7</text>
<path d="M807,1356 C810,1356 810,1351 812,1349 C813,1347 815,1347 818,1347" fill="none" stroke="#000" stroke-width="1.5"/>
</svg>
</body></html>
